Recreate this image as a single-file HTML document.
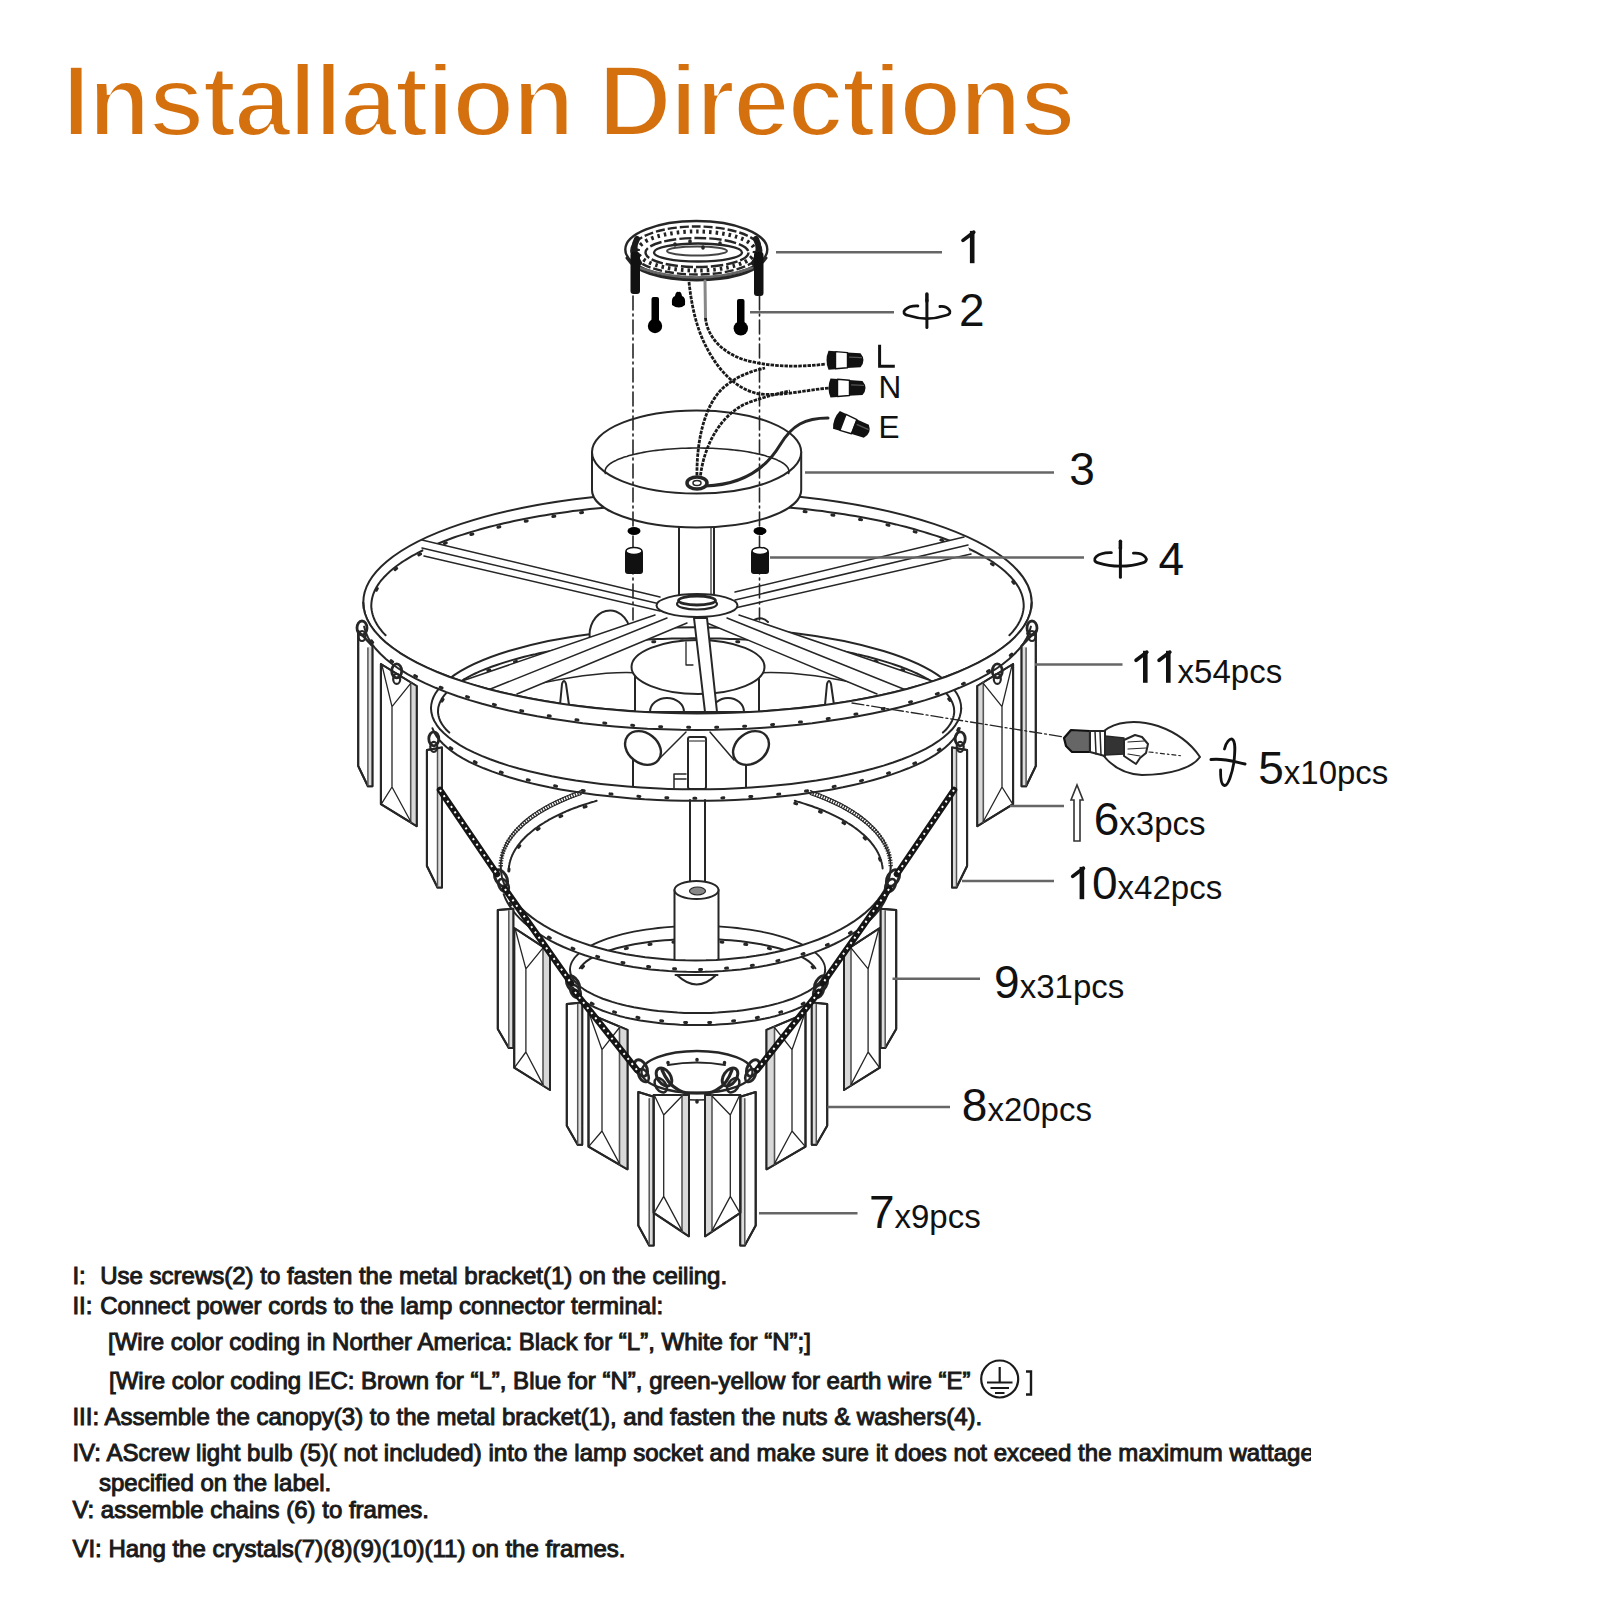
<!DOCTYPE html>
<html><head><meta charset="utf-8"><title>Installation Directions</title>
<style>
html,body{margin:0;padding:0;background:#fff;width:1600px;height:1600px;overflow:hidden}
svg{position:absolute;left:0;top:0;display:block}
.t{font-family:"Liberation Sans",sans-serif;fill:#1a1a1a;font-size:24px;stroke:#1a1a1a;stroke-width:1.0px}
.lbl{font-family:"Liberation Sans",sans-serif;fill:#111}
</style></head><body>
<svg width="1600" height="1600" viewBox="0 0 1600 1600">
<defs>
<clipPath id="txtclip"><rect x="0" y="1240" width="1311" height="360"/></clipPath>
</defs>
<!-- Title -->
<text x="62" y="135.8" font-family="Liberation Sans" font-weight="bold" font-size="102.5" fill="#D4700E" stroke="#fff" stroke-width="4" letter-spacing="-2.57">Installation Directions</text>

<!-- DIAGRAM -->
<g fill="none" stroke="#262626" stroke-width="2" stroke-linecap="round" stroke-linejoin="round">
<path d="M385.6,635.2 L383.8,633.4 L382.2,631.6 L380.7,629.7 L379.3,627.9 L378.0,626.0 L376.8,624.1 L375.8,622.3 L374.8,620.4 L374.0,618.5 L373.3,616.6 L372.7,614.7 L372.2,612.8 L371.8,610.9 L371.5,609.0 L371.3,607.1 L371.3,605.2 L371.4,603.3 L371.6,601.4 L371.9,599.5 L372.3,597.6 L372.8,595.7 L373.4,593.8 L374.2,591.9 L375.0,590.0 L376.0,588.1 L377.1,586.3 L378.3,584.4 L379.6,582.5 L381.0,580.7 L382.6,578.8 L384.2,577.0 L386.0,575.2 L387.8,573.4 L389.8,571.6 L391.9,569.8 L394.0,568.0 L396.3,566.2 L398.7,564.5 L401.2,562.7 L403.8,561.0 L406.5,559.3 L409.3,557.6 L412.2,555.9 L415.2,554.3 L418.3,552.6 L421.5,551.0 L424.8,549.4 L428.2,547.8 L431.7,546.3 L435.3,544.7 L439.0,543.2 L442.7,541.7 L446.6,540.2 L450.5,538.8 L454.5,537.3 L458.6,535.9 L462.8,534.6 L467.1,533.2 L471.4,531.9 L475.9,530.6 L480.4,529.3 L485.0,528.0 L489.6,526.8 L494.3,525.6 L499.1,524.4 L504.0,523.3 L509.0,522.2 L514.0,521.1 L519.0,520.0 L524.2,519.0 L529.3,518.0 L534.6,517.0 L539.9,516.1 L545.3,515.2 L550.7,514.3 L556.1,513.5 L561.7,512.7 L567.2,511.9 L572.8,511.1 L578.5,510.4 L584.2,509.8 L589.9,509.1 L595.7,508.5 L601.5,507.9 L607.3,507.4 L613.2,506.9 L619.1,506.4 L625.0,506.0 L631.0,505.5 L636.9,505.2 L642.9,504.8 L648.9,504.5 L655.0,504.3 L661.0,504.0 L667.1,503.8 L673.2,503.7 L679.2,503.6 L685.3,503.5 L691.4,503.4 L697.5,503.4 L703.6,503.4 L709.7,503.5 L715.8,503.6 L721.8,503.7 L727.9,503.8 L734.0,504.0 L740.0,504.3 L746.1,504.5 L752.1,504.8 L758.1,505.2 L764.0,505.5 L770.0,506.0 L775.9,506.4 L781.8,506.9 L787.7,507.4 L793.5,507.9 L799.3,508.5 L805.1,509.1 L810.8,509.8 L816.5,510.4 L822.2,511.1 L827.8,511.9 L833.3,512.7 L838.9,513.5 L844.3,514.3 L849.7,515.2 L855.1,516.1 L860.4,517.0 L865.7,518.0 L870.8,519.0 L876.0,520.0 L881.0,521.1 L886.0,522.2 L891.0,523.3 L895.9,524.4 L900.7,525.6 L905.4,526.8 L910.0,528.0 L914.6,529.3 L919.1,530.6 L923.6,531.9 L927.9,533.2 L932.2,534.6 L936.4,535.9 L940.5,537.3 L944.5,538.8 L948.4,540.2 L952.3,541.7 L956.0,543.2 L959.7,544.7 L963.3,546.3 L966.8,547.8 L970.2,549.4 L973.5,551.0 L976.7,552.6 L979.8,554.3 L982.8,555.9 L985.7,557.6 L988.5,559.3 L991.2,561.0 L993.8,562.7 L996.3,564.5 L998.7,566.2 L1001.0,568.0 L1003.1,569.8 L1005.2,571.6 L1007.2,573.4 L1009.0,575.2 L1010.8,577.0 L1012.4,578.8 L1014.0,580.7 L1015.4,582.5 L1016.7,584.4 L1017.9,586.3 L1019.0,588.1 L1020.0,590.0 L1020.8,591.9 L1021.6,593.8 L1022.2,595.7 L1022.7,597.6 L1023.1,599.5 L1023.4,601.4 L1023.6,603.3 L1023.7,605.2 L1023.7,607.1 L1023.5,609.0 L1023.2,610.9 L1022.8,612.8 L1022.3,614.7 L1021.7,616.6 L1021.0,618.5 L1020.2,620.4 L1019.2,622.3 L1018.2,624.1 L1017.0,626.0 L1015.7,627.9 L1014.3,629.7 L1012.8,631.6 L1011.2,633.4 L1009.4,635.2"/>
<ellipse cx="697.5" cy="602.4" rx="334.2" ry="111.0" />
<path d="M376.3,590.2 L377.3,588.4 L378.4,586.7 L379.7,585.0 L381.0,583.2 L382.4,581.5 L383.9,579.8 L385.6,578.1 L387.3,576.4 L389.1,574.7 L391.0,573.0 L393.0,571.3 L395.1,569.7 L397.2,568.0 L399.5,566.4 L401.9,564.8 L404.3,563.2 L406.9,561.6 L409.5,560.0 L412.2,558.4 L415.0,556.9 L417.9,555.4 L420.9,553.8 L423.9,552.3 L427.1,550.9 L430.3,549.4 L433.6,547.9 L437.0,546.5 L440.5,545.1 L444.0,543.7 L447.6,542.3 L451.3,541.0 L455.1,539.6 L458.9,538.3 L462.9,537.0 L466.8,535.8 L470.9,534.5 L475.0,533.3 L479.2,532.1 L483.5,530.9 L487.8,529.8 L492.2,528.6 L496.7,527.5 L501.2,526.4 L505.8,525.4 L510.4,524.3 L515.1,523.3 L519.8,522.4 L524.6,521.4 L529.5,520.5 L534.4,519.6 L539.4,518.7 L544.4,517.8 L549.4,517.0 L554.5,516.2 L559.6,515.5 L564.8,514.7 L570.0,514.0 L575.3,513.3 L580.6,512.7 L585.9,512.1 L591.3,511.5 L596.7,510.9 L602.1,510.4 L607.6,509.9 L613.1,509.4 L618.6,508.9 L624.1,508.5 L629.7,508.1 L635.3,507.8 L640.9,507.4 L646.5,507.2 L652.1,506.9 L657.7,506.7 L663.4,506.5 L669.1,506.3 L674.7,506.1 L680.4,506.0 L686.1,506.0 L691.8,505.9 L697.5,505.9 L703.2,505.9 L708.9,506.0 L714.6,506.0 L720.3,506.1 L725.9,506.3 L731.6,506.5 L737.3,506.7 L742.9,506.9 L748.5,507.2 L754.1,507.4 L759.7,507.8 L765.3,508.1 L770.9,508.5 L776.4,508.9 L781.9,509.4 L787.4,509.9 L792.9,510.4 L798.3,510.9 L803.7,511.5 L809.1,512.1 L814.4,512.7 L819.7,513.3 L825.0,514.0 L830.2,514.7 L835.4,515.5 L840.5,516.2 L845.6,517.0 L850.6,517.8 L855.6,518.7 L860.6,519.6 L865.5,520.5 L870.4,521.4 L875.2,522.4 L879.9,523.3 L884.6,524.3 L889.2,525.4 L893.8,526.4 L898.3,527.5 L902.8,528.6 L907.2,529.8 L911.5,530.9 L915.8,532.1 L920.0,533.3 L924.1,534.5 L928.2,535.8 L932.1,537.0 L936.1,538.3 L939.9,539.6 L943.7,541.0 L947.4,542.3 L951.0,543.7 L954.5,545.1 L958.0,546.5 L961.4,547.9 L964.7,549.4 L967.9,550.9 L971.1,552.3 L974.1,553.8 L977.1,555.4 L980.0,556.9 L982.8,558.4 L985.5,560.0 L988.1,561.6 L990.7,563.2 L993.1,564.8 L995.5,566.4 L997.8,568.0 L999.9,569.7 L1002.0,571.3 L1004.0,573.0 L1005.9,574.7 L1007.7,576.4 L1009.4,578.1 L1011.1,579.8 L1012.6,581.5 L1014.0,583.2 L1015.3,585.0 L1016.6,586.7 L1017.7,588.4 L1018.7,590.2" stroke-width="3" stroke-dasharray="2 26"/>
<path d="M449.3,732.6 L447.9,731.3 L446.6,730.0 L445.4,728.7 L444.3,727.4 L443.3,726.0 L442.4,724.7 L441.5,723.4 L440.8,722.0 L440.1,720.7 L439.6,719.3 L439.1,718.0 L438.7,716.6 L438.4,715.2 L438.2,713.9 L438.0,712.5 L438.0,711.1 L438.1,709.8 L438.2,708.4 L438.4,707.1 L438.8,705.7 L439.2,704.3 L439.7,703.0 L440.3,701.6 L441.0,700.3 L441.7,698.9 L442.6,697.6 L443.5,696.3 L444.6,694.9 L445.7,693.6 L446.9,692.3 L448.2,691.0 L449.6,689.7 L451.1,688.4 L452.6,687.1 L454.3,685.8 L456.0,684.5 L457.8,683.3 L459.7,682.0 L461.7,680.8 L463.7,679.5 L465.9,678.3 L468.1,677.1 L470.4,675.9 L472.8,674.7 L475.2,673.5 L477.7,672.4 L480.4,671.2 L483.0,670.1 L485.8,669.0 L488.6,667.9 L491.5,666.8 L494.5,665.7 L497.5,664.7 L500.7,663.6 L503.8,662.6 L507.1,661.6 L510.4,660.6 L513.8,659.6 L517.2,658.7 L520.7,657.7 L524.3,656.8 L527.9,655.9 L531.6,655.0 L535.4,654.2 L539.2,653.3 L543.0,652.5 L546.9,651.7 L550.9,651.0 L554.9,650.2 L558.9,649.5 L563.1,648.7 L567.2,648.1 L571.4,647.4 L575.6,646.7 L579.9,646.1 L584.3,645.5 L588.6,644.9 L593.0,644.4 L597.5,643.8 L601.9,643.3 L606.4,642.8 L611.0,642.4 L615.5,641.9 L620.1,641.5 L624.7,641.1 L629.4,640.8 L634.1,640.4 L638.7,640.1 L643.5,639.8 L648.2,639.6 L652.9,639.3 L657.7,639.1 L662.5,638.9 L667.2,638.8 L672.0,638.6 L676.8,638.5 L681.6,638.4 L686.5,638.4 L691.3,638.3 L696.1,638.3 L700.9,638.3 L705.7,638.4 L710.6,638.4 L715.4,638.5 L720.2,638.6 L725.0,638.8 L729.7,638.9 L734.5,639.1 L739.3,639.3 L744.0,639.6 L748.7,639.8 L753.5,640.1 L758.1,640.4 L762.8,640.8 L767.5,641.1 L772.1,641.5 L776.7,641.9 L781.2,642.4 L785.8,642.8 L790.3,643.3 L794.7,643.8 L799.2,644.4 L803.6,644.9 L807.9,645.5 L812.3,646.1 L816.6,646.7 L820.8,647.4 L825.0,648.1 L829.1,648.7 L833.3,649.5 L837.3,650.2 L841.3,651.0 L845.3,651.7 L849.2,652.5 L853.0,653.3 L856.8,654.2 L860.6,655.0 L864.3,655.9 L867.9,656.8 L871.5,657.7 L875.0,658.7 L878.4,659.6 L881.8,660.6 L885.1,661.6 L888.4,662.6 L891.5,663.6 L894.7,664.7 L897.7,665.7 L900.7,666.8 L903.6,667.9 L906.4,669.0 L909.2,670.1 L911.8,671.2 L914.5,672.4 L917.0,673.5 L919.4,674.7 L921.8,675.9 L924.1,677.1 L926.3,678.3 L928.5,679.5 L930.5,680.8 L932.5,682.0 L934.4,683.3 L936.2,684.5 L937.9,685.8 L939.6,687.1 L941.1,688.4 L942.6,689.7 L944.0,691.0 L945.3,692.3 L946.5,693.6 L947.6,694.9 L948.7,696.3 L949.6,697.6 L950.5,698.9 L951.2,700.3 L951.9,701.6 L952.5,703.0 L953.0,704.3 L953.4,705.7 L953.8,707.1 L954.0,708.4 L954.1,709.8 L954.2,711.1 L954.2,712.5 L954.0,713.9 L953.8,715.2 L953.5,716.6 L953.1,718.0 L952.6,719.3 L952.1,720.7 L951.4,722.0 L950.7,723.4 L949.8,724.7 L948.9,726.0 L947.9,727.4 L946.8,728.7 L945.6,730.0 L944.3,731.3 L942.9,732.6"/>
<path d="M431.0,708.3 A265.1,81.0 0 0 1 961.2,708.3" />
<path d="M441.9,701.1 L443.0,699.5 L444.3,697.8 L445.7,696.1 L447.2,694.5 L448.8,692.9 L450.6,691.2 L452.6,689.6 L454.6,688.0 L456.8,686.5 L459.1,684.9 L461.6,683.3 L464.1,681.8 L466.8,680.3 L469.6,678.8 L472.6,677.3 L475.6,675.8 L478.8,674.4 L482.1,673.0 L485.5,671.6 L489.1,670.2 L492.7,668.9 L496.5,667.5 L500.3,666.2 L504.3,665.0 L508.4,663.7 L512.5,662.5 L516.8,661.3 L521.2,660.1 L525.6,659.0 L530.2,657.9 L534.8,656.8 L539.6,655.8 L544.4,654.7 L549.3,653.8 L554.3,652.8 L559.3,651.9 L564.5,651.0 L569.7,650.2 L574.9,649.3 L580.3,648.6 L585.7,647.8 L591.1,647.1 L596.6,646.4 L602.2,645.8 L607.8,645.2 L613.5,644.6 L619.2,644.1 L625.0,643.6 L630.8,643.2 L636.6,642.8 L642.4,642.4 L648.3,642.1 L654.2,641.8 L660.2,641.5 L666.1,641.3 L672.1,641.1 L678.1,641.0 L684.1,640.9 L690.1,640.8 L696.1,640.8 L702.1,640.8 L708.1,640.9 L714.1,641.0 L720.1,641.1 L726.1,641.3 L732.0,641.5 L738.0,641.8 L743.9,642.1 L749.8,642.4 L755.6,642.8 L761.4,643.2 L767.2,643.6 L773.0,644.1 L778.7,644.6 L784.4,645.2 L790.0,645.8 L795.6,646.4 L801.1,647.1 L806.5,647.8 L811.9,648.6 L817.3,649.3 L822.5,650.2 L827.7,651.0 L832.9,651.9 L837.9,652.8 L842.9,653.8 L847.8,654.7 L852.6,655.8 L857.4,656.8 L862.0,657.9 L866.6,659.0 L871.0,660.1 L875.4,661.3 L879.7,662.5 L883.8,663.7 L887.9,665.0 L891.9,666.2 L895.7,667.5 L899.5,668.9 L903.1,670.2 L906.7,671.6 L910.1,673.0 L913.4,674.4 L916.6,675.8 L919.6,677.3 L922.6,678.8 L925.4,680.3 L928.1,681.8 L930.6,683.3 L933.1,684.9 L935.4,686.5 L937.6,688.0 L939.6,689.6 L941.6,691.2 L943.4,692.9 L945.0,694.5 L946.5,696.1 L947.9,697.8 L949.2,699.5 L950.3,701.1" stroke-width="3" stroke-dasharray="2 26"/>
<path d="M590,640 A20,24 0 0 1 630,630" fill="#fff"/>
<path d="M748,628 A14,20 0 0 1 768,622" fill="#fff"/>
<path d="M528,686 Q600,670 640,673 M756,673 Q800,670 868,686" stroke-width="1.5"/>
<path d="M635,667 L635,712 L759,712 L759,667" fill="#fff"/>
<ellipse cx="698.0" cy="667.0" rx="66.5" ry="27.0" fill="#fff"/>
<path d="M650,712 A17,14 0 0 1 684,712 M712,712 A16,14 0 0 1 744,712" />
<path d="M686,642 L686,665 L693,665" stroke-width="1.3"/>
<path d="M560,705 L562,684 Q564,678 566,684 L569,705" fill="#fff"/>
<path d="M825,705 L827,684 Q829,678 831,684 L834,705" fill="#fff"/>
<polygon points="422.0,540.0 660.0,597.0 660.0,611.0 424.0,556.0" fill="#fff" stroke="none"/><path d="M422,540 L660,597 M422,548 L660,604 M424,556 L660,611" stroke-width="1.5"/>
<polygon points="964.0,537.0 735.0,592.0 735.0,608.0 971.0,554.0" fill="#fff" stroke="none"/><path d="M964,537 L735,592 M968,545 L735,600 M971,554 L735,608" stroke-width="1.5"/>
<polygon points="655.0,615.0 462.0,681.0 517.0,694.0 687.0,623.0" fill="#fff" stroke="none"/><path d="M655,615 L462,681 M667,618 L488,690 M687,623 L517,694" stroke-width="1.5"/>
<polygon points="739.0,615.0 932.0,681.0 877.0,694.0 707.0,623.0" fill="#fff" stroke="none"/><path d="M739,615 L932,681 M727,618 L906,690 M707,623 L877,694" stroke-width="1.5"/>
<polygon points="694.0,618.0 707.0,618.0 717.0,712.0 705.0,712.0" fill="#fff"/>
<rect x="679" y="520" width="35" height="82" fill="#fff"/>
<path d="M711,525 L711,600" stroke-width="1.2"/>
<ellipse cx="697.0" cy="605.5" rx="40.5" ry="11.5" fill="#fff"/>
<ellipse cx="697.0" cy="604.0" rx="20.0" ry="5.5" fill="#fff" stroke-width="2.2"/>
<ellipse cx="697.0" cy="600.5" rx="18.5" ry="4.5" fill="#fff" stroke-width="2.8"/>
<path d="M592,452 L592,490 A104.6,37.5 0 0 0 801.2,490 L801.2,452" fill="#fff"/>
<ellipse cx="696.6" cy="452.0" rx="104.6" ry="41.6" fill="#fff"/>
<path d="M605.4,473.5 L605.1,472.6 L605.0,471.6 L605.1,470.6 L605.3,469.7 L605.7,468.7 L606.2,467.7 L606.9,466.8 L607.7,465.8 L608.7,464.9 L609.9,463.9 L611.2,463.0 L612.6,462.1 L614.2,461.2 L616.0,460.4 L617.8,459.5 L619.8,458.7 L622.0,457.9 L624.3,457.1 L626.7,456.4 L629.2,455.6 L631.8,454.9 L634.6,454.2 L637.4,453.6 L640.4,453.0 L643.4,452.4 L646.6,451.8 L649.8,451.3 L653.1,450.8 L656.5,450.4 L659.9,450.0 L663.5,449.6 L667.0,449.3 L670.7,449.0 L674.4,448.7 L678.1,448.5 L681.8,448.3 L685.6,448.2 L689.4,448.1 L693.2,448.0 L697.0,448.0 L700.8,448.0 L704.6,448.1 L708.4,448.2 L712.2,448.3 L715.9,448.5 L719.6,448.7 L723.3,449.0 L727.0,449.3 L730.5,449.6 L734.1,450.0 L737.5,450.4 L740.9,450.8 L744.2,451.3 L747.4,451.8 L750.6,452.4 L753.6,453.0 L756.6,453.6 L759.4,454.2 L762.2,454.9 L764.8,455.6 L767.3,456.4 L769.7,457.1 L772.0,457.9 L774.2,458.7 L776.2,459.5 L778.0,460.4 L779.8,461.2 L781.4,462.1 L782.8,463.0 L784.1,463.9 L785.3,464.9 L786.3,465.8 L787.1,466.8 L787.8,467.7 L788.3,468.7 L788.7,469.7 L788.9,470.6 L789.0,471.6 L788.9,472.6 L788.6,473.5" stroke-width="1.6"/>
<polygon points="1031.7,602.4 1031.2,608.2 1029.9,614.0 1027.6,619.8 1024.4,625.5 1020.3,631.1 1015.3,636.7 1009.5,642.2 1002.8,647.5 995.3,652.8 986.9,657.9 977.8,662.9 967.9,667.6 957.2,672.3 945.9,676.7 933.8,680.9 921.1,684.9 907.8,688.7 893.9,692.2 879.5,695.5 864.6,698.5 849.2,701.3 833.4,703.8 817.3,706.0 800.8,708.0 784.0,709.6 767.0,711.0 749.8,712.0 732.4,712.8 715.0,713.2 697.5,713.4 680.0,713.2 662.6,712.8 645.2,712.0 628.0,711.0 611.0,709.6 594.2,708.0 577.7,706.0 561.6,703.8 545.8,701.3 530.4,698.5 515.5,695.5 501.1,692.2 487.2,688.7 473.9,684.9 461.2,680.9 449.1,676.7 437.8,672.3 427.1,667.6 417.2,662.9 408.1,657.9 399.7,652.8 392.2,647.5 385.5,642.2 379.7,636.7 374.7,631.1 370.6,625.5 367.4,619.8 365.1,614.0 363.8,608.2 363.3,602.4 363.3,618.9 363.8,624.7 365.1,630.5 367.4,636.3 370.6,642.0 374.7,647.6 379.7,653.2 385.5,658.7 392.2,664.0 399.7,669.3 408.1,674.4 417.2,679.4 427.1,684.1 437.8,688.8 449.1,693.2 461.2,697.4 473.9,701.4 487.2,705.2 501.1,708.7 515.5,712.0 530.4,715.0 545.8,717.8 561.6,720.3 577.7,722.5 594.2,724.5 611.0,726.1 628.0,727.5 645.2,728.5 662.6,729.3 680.0,729.7 697.5,729.9 715.0,729.7 732.4,729.3 749.8,728.5 767.0,727.5 784.0,726.1 800.8,724.5 817.3,722.5 833.4,720.3 849.2,717.8 864.6,715.0 879.5,712.0 893.9,708.7 907.8,705.2 921.1,701.4 933.8,697.4 945.9,693.2 957.2,688.8 967.9,684.1 977.8,679.4 986.9,674.4 995.3,669.3 1002.8,664.0 1009.5,658.7 1015.3,653.2 1020.3,647.6 1024.4,642.0 1027.6,636.3 1029.9,630.5 1031.2,624.7 1031.7,618.9" fill="#fff" stroke="none"/>
<path d="M1031.7,602.4 L1031.2,608.2 L1029.9,614.0 L1027.6,619.8 L1024.4,625.5 L1020.3,631.1 L1015.3,636.7 L1009.5,642.2 L1002.8,647.5 L995.3,652.8 L986.9,657.9 L977.8,662.9 L967.9,667.6 L957.2,672.3 L945.9,676.7 L933.8,680.9 L921.1,684.9 L907.8,688.7 L893.9,692.2 L879.5,695.5 L864.6,698.5 L849.2,701.3 L833.4,703.8 L817.3,706.0 L800.8,708.0 L784.0,709.6 L767.0,711.0 L749.8,712.0 L732.4,712.8 L715.0,713.2 L697.5,713.4 L680.0,713.2 L662.6,712.8 L645.2,712.0 L628.0,711.0 L611.0,709.6 L594.2,708.0 L577.7,706.0 L561.6,703.8 L545.8,701.3 L530.4,698.5 L515.5,695.5 L501.1,692.2 L487.2,688.7 L473.9,684.9 L461.2,680.9 L449.1,676.7 L437.8,672.3 L427.1,667.6 L417.2,662.9 L408.1,657.9 L399.7,652.8 L392.2,647.5 L385.5,642.2 L379.7,636.7 L374.7,631.1 L370.6,625.5 L367.4,619.8 L365.1,614.0 L363.8,608.2 L363.3,602.4" stroke-width="2"/>
<path d="M1030.9,626.6 L1029.3,632.2 L1026.9,637.7 L1023.7,643.1 L1019.6,648.5 L1014.7,653.8 L1009.1,659.0 L1002.6,664.2 L995.5,669.2 L987.5,674.1 L978.8,678.8 L969.5,683.4 L959.4,687.8 L948.7,692.1 L937.4,696.2 L925.4,700.1 L912.9,703.8 L899.9,707.2 L886.3,710.5 L872.3,713.5 L857.8,716.3 L843.0,718.8 L827.7,721.1 L812.2,723.2 L796.3,724.9 L780.2,726.4 L763.9,727.7 L747.5,728.7 L730.9,729.3 L714.2,729.8 L697.5,729.9 L680.8,729.8 L664.1,729.3 L647.5,728.7 L631.1,727.7 L614.8,726.4 L598.7,724.9 L582.8,723.2 L567.3,721.1 L552.0,718.8 L537.2,716.3 L522.7,713.5 L508.7,710.5 L495.1,707.2 L482.1,703.8 L469.6,700.1 L457.6,696.2 L446.3,692.1 L435.6,687.8 L425.5,683.4 L416.2,678.8 L407.5,674.1 L399.5,669.2 L392.4,664.2 L385.9,659.0 L380.3,653.8 L375.4,648.5 L371.3,643.1 L368.1,637.7 L365.7,632.2 L364.1,626.6"/>
<path d="M1028.4,631.8 L1027.6,633.8 L1026.6,635.8 L1025.5,637.7 L1024.3,639.7 L1023.0,641.6 L1021.6,643.5 L1020.0,645.5 L1018.4,647.4 L1016.7,649.3 L1014.9,651.2 L1013.0,653.0 L1010.9,654.9 L1008.8,656.8 L1006.6,658.6 L1004.3,660.4 L1001.9,662.3 L999.3,664.1 L996.7,665.8 L994.0,667.6 L991.2,669.4 L988.3,671.1 L985.3,672.8 L982.2,674.5 L979.0,676.2 L975.8,677.9 L972.4,679.5 L969.0,681.1 L965.5,682.7 L961.8,684.3 L958.1,685.9 L954.4,687.4 L950.5,688.9 L946.5,690.4 L942.5,691.9 L938.4,693.3 L934.2,694.8 L930.0,696.1 L925.6,697.5 L921.2,698.9 L916.8,700.2 L912.2,701.5 L907.6,702.7 L902.9,704.0 L898.2,705.2 L893.3,706.3 L888.5,707.5 L883.5,708.6 L878.5,709.7 L873.5,710.8 L868.4,711.8 L863.2,712.8 L858.0,713.8 L852.7,714.7 L847.4,715.6 L842.0,716.5 L836.6,717.3 L831.2,718.1 L825.7,718.9 L820.1,719.7 L814.5,720.4 L808.9,721.0 L803.3,721.7 L797.6,722.3 L791.9,722.9 L786.1,723.4 L780.3,723.9 L774.5,724.4 L768.7,724.9 L762.8,725.3 L757.0,725.6 L751.1,726.0 L745.2,726.3 L739.2,726.5 L733.3,726.8 L727.4,727.0 L721.4,727.1 L715.4,727.2 L709.5,727.3 L703.5,727.4 L697.5,727.4 L691.5,727.4 L685.5,727.3 L679.6,727.2 L673.6,727.1 L667.6,727.0 L661.7,726.8 L655.8,726.5 L649.8,726.3 L643.9,726.0 L638.0,725.6 L632.2,725.3 L626.3,724.9 L620.5,724.4 L614.7,723.9 L608.9,723.4 L603.1,722.9 L597.4,722.3 L591.7,721.7 L586.1,721.0 L580.5,720.4 L574.9,719.7 L569.3,718.9 L563.8,718.1 L558.4,717.3 L553.0,716.5 L547.6,715.6 L542.3,714.7 L537.0,713.8 L531.8,712.8 L526.6,711.8 L521.5,710.8 L516.5,709.7 L511.5,708.6 L506.5,707.5 L501.7,706.3 L496.8,705.2 L492.1,704.0 L487.4,702.7 L482.8,701.5 L478.2,700.2 L473.8,698.9 L469.4,697.5 L465.0,696.1 L460.8,694.8 L456.6,693.3 L452.5,691.9 L448.5,690.4 L444.5,688.9 L440.6,687.4 L436.9,685.9 L433.2,684.3 L429.5,682.7 L426.0,681.1 L422.6,679.5 L419.2,677.9 L416.0,676.2 L412.8,674.5 L409.7,672.8 L406.7,671.1 L403.8,669.4 L401.0,667.6 L398.3,665.8 L395.7,664.1 L393.1,662.3 L390.7,660.4 L388.4,658.6 L386.2,656.8 L384.1,654.9 L382.0,653.0 L380.1,651.2 L378.3,649.3 L376.6,647.4 L375.0,645.5 L373.4,643.5 L372.0,641.6 L370.7,639.7 L369.5,637.7 L368.4,635.8 L367.4,633.8 L366.6,631.8" stroke-width="3" stroke-dasharray="2 26"/>
<path d="M633,735 L633,790 L746,790 L746,735" fill="#fff"/>
<path d="M660,758 L686,732 M710,732 L734,760" stroke-width="1.5"/>
<rect x="688" y="737" width="18" height="52" rx="2" fill="#fff"/>
<path d="M689,741 L705,741" stroke-width="1.4" stroke="#666"/>
<path d="M674,788 L674,774 L686,774 M674,779 L686,779" stroke-width="1.5"/>
<ellipse cx="643" cy="748" rx="19.5" ry="15" transform="rotate(38 643 748)" fill="#fff" stroke-width="2.4"/>
<ellipse cx="751" cy="748" rx="19.5" ry="15" transform="rotate(-38 751 748)" fill="#fff" stroke-width="2.4"/>
<polygon points="961.2,708.3 960.8,712.5 959.7,716.8 957.9,721.0 955.4,725.1 952.2,729.3 948.2,733.3 943.6,737.3 938.3,741.2 932.3,745.1 925.7,748.8 918.4,752.4 910.6,755.9 902.1,759.3 893.1,762.5 883.6,765.6 873.5,768.5 862.9,771.2 851.9,773.8 840.5,776.2 828.7,778.4 816.5,780.5 803.9,782.3 791.1,783.9 778.0,785.3 764.7,786.5 751.2,787.5 737.6,788.3 723.8,788.9 710.0,789.2 696.1,789.3 682.2,789.2 668.4,788.9 654.6,788.3 641.0,787.5 627.5,786.5 614.2,785.3 601.1,783.9 588.3,782.3 575.7,780.5 563.6,778.4 551.7,776.2 540.3,773.8 529.3,771.2 518.7,768.5 508.6,765.6 499.1,762.5 490.1,759.3 481.6,755.9 473.8,752.4 466.5,748.8 459.9,745.1 453.9,741.2 448.6,737.3 444.0,733.3 440.0,729.3 436.8,725.1 434.3,721.0 432.5,716.8 431.4,712.5 431.0,708.3 431.0,719.8 431.4,724.0 432.5,728.3 434.3,732.5 436.8,736.6 440.0,740.8 444.0,744.8 448.6,748.8 453.9,752.7 459.9,756.6 466.5,760.3 473.8,763.9 481.6,767.4 490.1,770.8 499.1,774.0 508.6,777.1 518.7,780.0 529.3,782.7 540.3,785.3 551.7,787.7 563.6,789.9 575.7,792.0 588.3,793.8 601.1,795.4 614.2,796.8 627.5,798.0 641.0,799.0 654.6,799.8 668.4,800.4 682.2,800.7 696.1,800.8 710.0,800.7 723.8,800.4 737.6,799.8 751.2,799.0 764.7,798.0 778.0,796.8 791.1,795.4 803.9,793.8 816.5,792.0 828.7,789.9 840.5,787.7 851.9,785.3 862.9,782.7 873.5,780.0 883.6,777.1 893.1,774.0 902.1,770.8 910.6,767.4 918.4,763.9 925.7,760.3 932.3,756.6 938.3,752.7 943.6,748.8 948.2,744.8 952.2,740.8 955.4,736.6 957.9,732.5 959.7,728.3 960.8,724.0 961.2,719.8" fill="#fff" stroke="none"/>
<path d="M961.2,708.3 L960.8,712.5 L959.7,716.8 L957.9,721.0 L955.4,725.1 L952.2,729.3 L948.2,733.3 L943.6,737.3 L938.3,741.2 L932.3,745.1 L925.7,748.8 L918.4,752.4 L910.6,755.9 L902.1,759.3 L893.1,762.5 L883.6,765.6 L873.5,768.5 L862.9,771.2 L851.9,773.8 L840.5,776.2 L828.7,778.4 L816.5,780.5 L803.9,782.3 L791.1,783.9 L778.0,785.3 L764.7,786.5 L751.2,787.5 L737.6,788.3 L723.8,788.9 L710.0,789.2 L696.1,789.3 L682.2,789.2 L668.4,788.9 L654.6,788.3 L641.0,787.5 L627.5,786.5 L614.2,785.3 L601.1,783.9 L588.3,782.3 L575.7,780.5 L563.6,778.4 L551.7,776.2 L540.3,773.8 L529.3,771.2 L518.7,768.5 L508.6,765.6 L499.1,762.5 L490.1,759.3 L481.6,755.9 L473.8,752.4 L466.5,748.8 L459.9,745.1 L453.9,741.2 L448.6,737.3 L444.0,733.3 L440.0,729.3 L436.8,725.1 L434.3,721.0 L432.5,716.8 L431.4,712.5 L431.0,708.3" stroke-width="2"/>
<path d="M959.7,728.3 L958.1,732.2 L955.8,736.1 L952.9,739.9 L949.3,743.8 L945.2,747.5 L940.5,751.2 L935.2,754.8 L929.3,758.3 L922.9,761.8 L915.9,765.1 L908.4,768.3 L900.4,771.4 L891.9,774.4 L882.9,777.3 L873.5,780.0 L863.7,782.6 L853.4,785.0 L842.8,787.3 L831.8,789.4 L820.6,791.3 L809.0,793.1 L797.1,794.7 L785.0,796.1 L772.7,797.3 L760.2,798.4 L747.6,799.3 L734.8,799.9 L722.0,800.4 L709.1,800.7 L696.1,800.8 L683.1,800.7 L670.2,800.4 L657.4,799.9 L644.6,799.3 L632.0,798.4 L619.5,797.3 L607.2,796.1 L595.1,794.7 L583.2,793.1 L571.6,791.3 L560.4,789.4 L549.4,787.3 L538.8,785.0 L528.5,782.6 L518.7,780.0 L509.3,777.3 L500.3,774.4 L491.8,771.4 L483.8,768.3 L476.3,765.1 L469.3,761.8 L462.9,758.3 L457.0,754.8 L451.7,751.2 L447.0,747.5 L442.9,743.8 L439.3,739.9 L436.4,736.1 L434.1,732.2 L432.5,728.3"/>
<path d="M958.6,728.6 L957.7,730.5 L956.6,732.4 L955.3,734.3 L953.9,736.2 L952.4,738.0 L950.7,739.9 L948.8,741.7 L946.9,743.6 L944.7,745.4 L942.5,747.2 L940.1,749.0 L937.5,750.8 L934.8,752.5 L932.0,754.2 L929.1,755.9 L926.0,757.6 L922.8,759.3 L919.4,760.9 L916.0,762.6 L912.4,764.1 L908.7,765.7 L904.8,767.2 L900.9,768.7 L896.8,770.2 L892.6,771.7 L888.3,773.1 L883.9,774.5 L879.4,775.8 L874.7,777.1 L870.0,778.4 L865.2,779.7 L860.3,780.9 L855.3,782.1 L850.2,783.2 L845.0,784.3 L839.7,785.4 L834.4,786.4 L828.9,787.4 L823.4,788.3 L817.8,789.3 L812.2,790.1 L806.5,790.9 L800.7,791.7 L794.8,792.5 L788.9,793.2 L783.0,793.8 L777.0,794.4 L770.9,795.0 L764.9,795.5 L758.7,796.0 L752.6,796.4 L746.4,796.8 L740.2,797.2 L733.9,797.5 L727.6,797.7 L721.4,797.9 L715.1,798.1 L708.7,798.2 L702.4,798.3 L696.1,798.3 L689.8,798.3 L683.5,798.2 L677.1,798.1 L670.8,797.9 L664.6,797.7 L658.3,797.5 L652.0,797.2 L645.8,796.8 L639.6,796.4 L633.5,796.0 L627.3,795.5 L621.3,795.0 L615.2,794.4 L609.2,793.8 L603.3,793.2 L597.4,792.5 L591.5,791.7 L585.7,790.9 L580.0,790.1 L574.4,789.3 L568.8,788.3 L563.3,787.4 L557.8,786.4 L552.5,785.4 L547.2,784.3 L542.0,783.2 L536.9,782.1 L531.9,780.9 L527.0,779.7 L522.2,778.4 L517.5,777.1 L512.8,775.8 L508.3,774.5 L503.9,773.1 L499.6,771.7 L495.4,770.2 L491.3,768.7 L487.4,767.2 L483.5,765.7 L479.8,764.1 L476.2,762.6 L472.8,760.9 L469.4,759.3 L466.2,757.6 L463.1,755.9 L460.2,754.2 L457.4,752.5 L454.7,750.8 L452.1,749.0 L449.7,747.2 L447.5,745.4 L445.3,743.6 L443.4,741.7 L441.5,739.9 L439.8,738.0 L438.3,736.2 L436.9,734.3 L435.6,732.4 L434.5,730.5 L433.6,728.6" stroke-width="3" stroke-dasharray="2 26"/>
<path d="M690,800 L690,890 M705,800 L705,890"/>
<path d="M500.7,866.4 L500.7,865.0 L500.8,863.5 L500.9,862.1 L501.1,860.7 L501.3,859.2 L501.6,857.8 L501.9,856.4 L502.2,855.0 L502.6,853.5 L503.1,852.1 L503.6,850.7 L504.2,849.3 L504.8,847.9 L505.4,846.5 L506.1,845.1 L506.8,843.7 L507.6,842.3 L508.4,841.0 L509.3,839.6 L510.2,838.2 L511.2,836.9 L512.2,835.5 L513.3,834.2 L514.4,832.8 L515.5,831.5 L516.7,830.2 L518.0,828.9 L519.3,827.6 L520.6,826.3 L522.0,825.0 L523.4,823.7 L524.8,822.5 L526.3,821.2 L527.9,820.0 L529.4,818.7 L531.1,817.5 L532.7,816.3 L534.4,815.1 L536.2,814.0 L537.9,812.8 L539.8,811.6 L541.6,810.5 L543.5,809.4 L545.4,808.3 L547.4,807.2 L549.4,806.1 L551.5,805.0 L553.6,804.0 L555.7,802.9 L557.8,801.9 L560.0,800.9 L562.2,799.9 L564.5,798.9 L566.7,798.0 L569.1,797.1 L571.4,796.1 L573.8,795.2 L576.2,794.3 L578.6,793.5 L581.1,792.6" stroke-width="4.4" stroke="#333" stroke-dasharray="1.3 1.3" stroke-linecap="butt"/>
<path d="M500.7,864.4 L500.7,863.0 L500.8,861.5 L500.9,860.1 L501.1,858.7 L501.3,857.2 L501.6,855.8 L501.9,854.4 L502.2,853.0 L502.6,851.5 L503.1,850.1 L503.6,848.7 L504.2,847.3 L504.8,845.9 L505.4,844.5 L506.1,843.1 L506.8,841.7 L507.6,840.3 L508.4,839.0 L509.3,837.6 L510.2,836.2 L511.2,834.9 L512.2,833.5 L513.3,832.2 L514.4,830.8 L515.5,829.5 L516.7,828.2 L518.0,826.9 L519.3,825.6 L520.6,824.3 L522.0,823.0 L523.4,821.7 L524.8,820.5 L526.3,819.2 L527.9,818.0 L529.4,816.7 L531.1,815.5 L532.7,814.3 L534.4,813.1 L536.2,812.0 L537.9,810.8 L539.8,809.6 L541.6,808.5 L543.5,807.4 L545.4,806.3 L547.4,805.2 L549.4,804.1 L551.5,803.0 L553.6,802.0 L555.7,800.9 L557.8,799.9 L560.0,798.9 L562.2,797.9 L564.5,796.9 L566.7,796.0 L569.1,795.1 L571.4,794.1 L573.8,793.2 L576.2,792.3 L578.6,791.5 L581.1,790.6" stroke-width="1.1" />
<path d="M500.7,868.4 L500.7,867.0 L500.8,865.5 L500.9,864.1 L501.1,862.7 L501.3,861.2 L501.6,859.8 L501.9,858.4 L502.2,857.0 L502.6,855.5 L503.1,854.1 L503.6,852.7 L504.2,851.3 L504.8,849.9 L505.4,848.5 L506.1,847.1 L506.8,845.7 L507.6,844.3 L508.4,843.0 L509.3,841.6 L510.2,840.2 L511.2,838.9 L512.2,837.5 L513.3,836.2 L514.4,834.8 L515.5,833.5 L516.7,832.2 L518.0,830.9 L519.3,829.6 L520.6,828.3 L522.0,827.0 L523.4,825.7 L524.8,824.5 L526.3,823.2 L527.9,822.0 L529.4,820.7 L531.1,819.5 L532.7,818.3 L534.4,817.1 L536.2,816.0 L537.9,814.8 L539.8,813.6 L541.6,812.5 L543.5,811.4 L545.4,810.3 L547.4,809.2 L549.4,808.1 L551.5,807.0 L553.6,806.0 L555.7,804.9 L557.8,803.9 L560.0,802.9 L562.2,801.9 L564.5,800.9 L566.7,800.0 L569.1,799.1 L571.4,798.1 L573.8,797.2 L576.2,796.3 L578.6,795.5 L581.1,794.6" stroke-width="1.1" />
<path d="M810.3,792.6 L812.8,793.5 L815.2,794.3 L817.6,795.2 L820.0,796.1 L822.3,797.1 L824.7,798.0 L826.9,798.9 L829.2,799.9 L831.4,800.9 L833.6,801.9 L835.7,802.9 L837.8,804.0 L839.9,805.0 L842.0,806.1 L844.0,807.2 L846.0,808.3 L847.9,809.4 L849.8,810.5 L851.6,811.6 L853.5,812.8 L855.2,814.0 L857.0,815.1 L858.7,816.3 L860.3,817.5 L862.0,818.7 L863.5,820.0 L865.1,821.2 L866.6,822.5 L868.0,823.7 L869.4,825.0 L870.8,826.3 L872.1,827.6 L873.4,828.9 L874.7,830.2 L875.9,831.5 L877.0,832.8 L878.1,834.2 L879.2,835.5 L880.2,836.9 L881.2,838.2 L882.1,839.6 L883.0,841.0 L883.8,842.3 L884.6,843.7 L885.3,845.1 L886.0,846.5 L886.6,847.9 L887.2,849.3 L887.8,850.7 L888.3,852.1 L888.8,853.5 L889.2,855.0 L889.5,856.4 L889.8,857.8 L890.1,859.2 L890.3,860.7 L890.5,862.1 L890.6,863.5 L890.7,865.0 L890.7,866.4" stroke-width="4.4" stroke="#333" stroke-dasharray="1.3 1.3" stroke-linecap="butt"/>
<path d="M810.3,790.6 L812.8,791.5 L815.2,792.3 L817.6,793.2 L820.0,794.1 L822.3,795.1 L824.7,796.0 L826.9,796.9 L829.2,797.9 L831.4,798.9 L833.6,799.9 L835.7,800.9 L837.8,802.0 L839.9,803.0 L842.0,804.1 L844.0,805.2 L846.0,806.3 L847.9,807.4 L849.8,808.5 L851.6,809.6 L853.5,810.8 L855.2,812.0 L857.0,813.1 L858.7,814.3 L860.3,815.5 L862.0,816.7 L863.5,818.0 L865.1,819.2 L866.6,820.5 L868.0,821.7 L869.4,823.0 L870.8,824.3 L872.1,825.6 L873.4,826.9 L874.7,828.2 L875.9,829.5 L877.0,830.8 L878.1,832.2 L879.2,833.5 L880.2,834.9 L881.2,836.2 L882.1,837.6 L883.0,839.0 L883.8,840.3 L884.6,841.7 L885.3,843.1 L886.0,844.5 L886.6,845.9 L887.2,847.3 L887.8,848.7 L888.3,850.1 L888.8,851.5 L889.2,853.0 L889.5,854.4 L889.8,855.8 L890.1,857.2 L890.3,858.7 L890.5,860.1 L890.6,861.5 L890.7,863.0 L890.7,864.4" stroke-width="1.1" />
<path d="M810.3,794.6 L812.8,795.5 L815.2,796.3 L817.6,797.2 L820.0,798.1 L822.3,799.1 L824.7,800.0 L826.9,800.9 L829.2,801.9 L831.4,802.9 L833.6,803.9 L835.7,804.9 L837.8,806.0 L839.9,807.0 L842.0,808.1 L844.0,809.2 L846.0,810.3 L847.9,811.4 L849.8,812.5 L851.6,813.6 L853.5,814.8 L855.2,816.0 L857.0,817.1 L858.7,818.3 L860.3,819.5 L862.0,820.7 L863.5,822.0 L865.1,823.2 L866.6,824.5 L868.0,825.7 L869.4,827.0 L870.8,828.3 L872.1,829.6 L873.4,830.9 L874.7,832.2 L875.9,833.5 L877.0,834.8 L878.1,836.2 L879.2,837.5 L880.2,838.9 L881.2,840.2 L882.1,841.6 L883.0,843.0 L883.8,844.3 L884.6,845.7 L885.3,847.1 L886.0,848.5 L886.6,849.9 L887.2,851.3 L887.8,852.7 L888.3,854.1 L888.8,855.5 L889.2,857.0 L889.5,858.4 L889.8,859.8 L890.1,861.2 L890.3,862.7 L890.5,864.1 L890.6,865.5 L890.7,867.0 L890.7,868.4" stroke-width="1.1" />
<path d="M508.8,868.5 L508.9,867.1 L509.1,865.8 L509.4,864.4 L509.6,863.1 L510.0,861.7 L510.3,860.4 L510.8,859.1 L511.2,857.7 L511.8,856.4 L512.3,855.0 L513.0,853.7 L513.6,852.4 L514.4,851.1 L515.1,849.8 L515.9,848.5 L516.8,847.2 L517.7,845.9 L518.7,844.6 L519.7,843.3 L520.7,842.0 L521.8,840.8 L523.0,839.5 L524.2,838.3 L525.4,837.0 L526.7,835.8 L528.0,834.6 L529.4,833.4 L530.8,832.2 L532.3,831.0 L533.8,829.8 L535.3,828.6 L536.9,827.5 L538.5,826.3 L540.2,825.2 L541.9,824.1 L543.7,823.0 L545.4,821.9 L547.3,820.8 L549.1,819.7 L551.1,818.7 L553.0,817.6 L555.0,816.6 L557.0,815.6 L559.1,814.6 L561.2,813.6 L563.3,812.6 L565.5,811.7 L567.7,810.7 L569.9,809.8 L572.2,808.9 L574.5,808.0 L576.8,807.2 L579.2,806.3 L581.6,805.5 L584.0,804.7 L586.5,803.9 L589.0,803.1 L591.5,802.3 L594.0,801.6 L596.6,800.8"/>
<path d="M508.8,871.0 L509.1,868.3 L509.6,865.6 L510.3,862.9 L511.2,860.2 L512.3,857.5 L513.6,854.9 L515.1,852.3 L516.8,849.7 L518.7,847.1 L520.7,844.5 L523.0,842.0 L525.4,839.5 L528.0,837.1 L530.8,834.7 L533.8,832.3 L536.9,830.0 L540.2,827.7 L543.7,825.5 L547.3,823.3 L551.1,821.2 L555.0,819.1 L559.1,817.1 L563.3,815.1 L567.7,813.2 L572.2,811.4 L576.8,809.7 L581.6,808.0 L586.5,806.4 L591.5,804.8 L596.6,803.3" stroke-width="3" stroke-dasharray="2 24"/>
<path d="M794.8,800.8 L797.4,801.6 L799.9,802.3 L802.4,803.1 L804.9,803.9 L807.4,804.7 L809.8,805.5 L812.2,806.3 L814.6,807.2 L816.9,808.0 L819.2,808.9 L821.5,809.8 L823.7,810.7 L825.9,811.7 L828.1,812.6 L830.2,813.6 L832.3,814.6 L834.4,815.6 L836.4,816.6 L838.4,817.6 L840.3,818.7 L842.3,819.7 L844.1,820.8 L846.0,821.9 L847.7,823.0 L849.5,824.1 L851.2,825.2 L852.9,826.3 L854.5,827.5 L856.1,828.6 L857.6,829.8 L859.1,831.0 L860.6,832.2 L862.0,833.4 L863.4,834.6 L864.7,835.8 L866.0,837.0 L867.2,838.3 L868.4,839.5 L869.6,840.8 L870.7,842.0 L871.7,843.3 L872.7,844.6 L873.7,845.9 L874.6,847.2 L875.5,848.5 L876.3,849.8 L877.0,851.1 L877.8,852.4 L878.4,853.7 L879.1,855.0 L879.6,856.4 L880.2,857.7 L880.6,859.1 L881.1,860.4 L881.4,861.7 L881.8,863.1 L882.0,864.4 L882.3,865.8 L882.5,867.1 L882.6,868.5"/>
<path d="M794.8,803.3 L799.9,804.8 L804.9,806.4 L809.8,808.0 L814.6,809.7 L819.2,811.4 L823.7,813.2 L828.1,815.1 L832.3,817.1 L836.4,819.1 L840.3,821.2 L844.1,823.3 L847.7,825.5 L851.2,827.7 L854.5,830.0 L857.6,832.3 L860.6,834.7 L863.4,837.1 L866.0,839.5 L868.4,842.0 L870.7,844.5 L872.7,847.1 L874.6,849.7 L876.3,852.3 L877.8,854.9 L879.1,857.5 L880.2,860.2 L881.1,862.9 L881.8,865.6 L882.3,868.3 L882.6,871.0" stroke-width="3" stroke-dasharray="2 24"/>
<path d="M570.0,969.5 L570.2,967.2 L570.7,964.9 L571.6,962.7 L572.8,960.4 L574.3,958.2 L576.2,956.0 L578.5,953.9 L581.0,951.8 L583.9,949.7 L587.1,947.7 L590.6,945.8 L594.4,943.9 L598.4,942.1 L602.8,940.3 L607.4,938.7 L612.2,937.1 L617.3,935.6 L622.6,934.2 L628.1,932.9 L633.8,931.7 L639.7,930.7 L645.7,929.7 L651.9,928.8 L658.2,928.0 L664.6,927.4 L671.1,926.9 L677.6,926.4 L684.3,926.1 L690.9,926.0 L697.6,925.9 L704.3,926.0 L710.9,926.1 L717.6,926.4 L724.1,926.9 L730.6,927.4 L737.0,928.0 L743.3,928.8 L749.5,929.7 L755.5,930.7 L761.4,931.7 L767.1,932.9 L772.6,934.2 L777.9,935.6 L783.0,937.1 L787.8,938.7 L792.4,940.3 L796.8,942.1 L800.8,943.9 L804.6,945.8 L808.1,947.7 L811.3,949.7 L814.2,951.8 L816.7,953.9 L819.0,956.0 L820.9,958.2 L822.4,960.4 L823.6,962.7 L824.5,964.9 L825.0,967.2 L825.2,969.5" stroke-width="1.8"/>
<path d="M579.8,968.3 L580.9,966.7 L582.3,965.1 L583.9,963.5 L585.7,961.9 L587.8,960.4 L590.1,958.9 L592.7,957.4 L595.4,956.0 L598.4,954.6 L601.7,953.2 L605.1,951.9 L608.7,950.7 L612.5,949.5 L616.5,948.3 L620.7,947.2 L625.1,946.2 L629.6,945.2 L634.2,944.3 L639.0,943.5 L643.9,942.7 L649.0,942.0 L654.1,941.3 L659.3,940.8 L664.6,940.3 L670.0,939.9 L675.5,939.5 L681.0,939.2 L686.5,939.1 L692.0,938.9 L697.6,938.9 L703.2,938.9 L708.7,939.1 L714.2,939.2 L719.7,939.5 L725.2,939.9 L730.6,940.3 L735.9,940.8 L741.1,941.3 L746.2,942.0 L751.3,942.7 L756.2,943.5 L761.0,944.3 L765.6,945.2 L770.1,946.2 L774.5,947.2 L778.7,948.3 L782.7,949.5 L786.5,950.7 L790.1,951.9 L793.5,953.2 L796.8,954.6 L799.8,956.0 L802.5,957.4 L805.1,958.9 L807.4,960.4 L809.5,961.9 L811.3,963.5 L812.9,965.1 L814.3,966.7 L815.4,968.3"/>
<path d="M582.1,967.8 L583.5,966.3 L585.2,964.8 L587.1,963.4 L589.2,962.0 L591.5,960.6 L594.0,959.2 L596.7,957.9 L599.6,956.6 L602.7,955.3 L606.0,954.1 L609.4,952.9 L613.0,951.8 L616.8,950.8 L620.7,949.7 L624.8,948.8 L629.0,947.8 L633.3,947.0 L637.8,946.2 L642.4,945.4 L647.1,944.7 L651.8,944.1 L656.7,943.5 L661.6,943.0 L666.6,942.6 L671.7,942.2 L676.8,941.9 L682.0,941.7 L687.2,941.5 L692.4,941.4 L697.6,941.4 L702.8,941.4 L708.0,941.5 L713.2,941.7 L718.4,941.9 L723.5,942.2 L728.6,942.6 L733.6,943.0 L738.5,943.5 L743.4,944.1 L748.1,944.7 L752.8,945.4 L757.4,946.2 L761.9,947.0 L766.2,947.8 L770.4,948.8 L774.5,949.7 L778.4,950.8 L782.2,951.8 L785.8,952.9 L789.2,954.1 L792.5,955.3 L795.6,956.6 L798.5,957.9 L801.2,959.2 L803.7,960.6 L806.0,962.0 L808.1,963.4 L810.0,964.8 L811.7,966.3 L813.1,967.8" stroke-width="3" stroke-dasharray="2 22"/>
<path d="M674.5,890 L674.5,962 L718.5,962 L718.5,890" fill="#fff"/>
<ellipse cx="696.5" cy="890.0" rx="22.0" ry="9.0" fill="#fff"/>
<ellipse cx="697.5" cy="891.0" rx="8.0" ry="4.0" fill="#888" stroke-width="1.2"/>
<path d="M675.5,975 L717.5,975 M677,975 Q697,994 716,975" fill="#fff"/>
<polygon points="890.7,866.4 890.4,871.3 889.6,876.2 888.3,881.1 886.4,885.9 884.1,890.7 881.2,895.4 877.7,900.1 873.8,904.6 869.4,909.1 864.6,913.4 859.2,917.6 853.5,921.7 847.2,925.6 840.6,929.3 833.6,932.9 826.2,936.3 818.4,939.5 810.3,942.4 801.9,945.2 793.2,947.8 784.2,950.2 775.0,952.3 765.6,954.2 756.0,955.8 746.2,957.2 736.2,958.3 726.2,959.2 716.1,959.9 705.9,960.3 695.7,960.4 685.5,960.3 675.3,959.9 665.2,959.2 655.2,958.3 645.2,957.2 635.4,955.8 625.8,954.2 616.4,952.3 607.2,950.2 598.2,947.8 589.5,945.2 581.1,942.4 573.0,939.5 565.2,936.3 557.8,932.9 550.8,929.3 544.2,925.6 537.9,921.7 532.2,917.6 526.8,913.4 522.0,909.1 517.6,904.6 513.7,900.1 510.2,895.4 507.3,890.7 505.0,885.9 503.1,881.1 501.8,876.2 501.0,871.3 500.7,866.4 500.7,877.9 501.0,882.8 501.8,887.7 503.1,892.6 505.0,897.4 507.3,902.2 510.2,906.9 513.7,911.6 517.6,916.1 522.0,920.6 526.8,924.9 532.2,929.1 537.9,933.2 544.2,937.1 550.8,940.8 557.8,944.4 565.2,947.8 573.0,951.0 581.1,953.9 589.5,956.7 598.2,959.3 607.2,961.7 616.4,963.8 625.8,965.7 635.4,967.3 645.2,968.7 655.2,969.8 665.2,970.7 675.3,971.4 685.5,971.8 695.7,971.9 705.9,971.8 716.1,971.4 726.2,970.7 736.2,969.8 746.2,968.7 756.0,967.3 765.6,965.7 775.0,963.8 784.2,961.7 793.2,959.3 801.9,956.7 810.3,953.9 818.4,951.0 826.2,947.8 833.6,944.4 840.6,940.8 847.2,937.1 853.5,933.2 859.2,929.1 864.6,924.9 869.4,920.6 873.8,916.1 877.7,911.6 881.2,906.9 884.1,902.2 886.4,897.4 888.3,892.6 889.6,887.7 890.4,882.8 890.7,877.9" fill="#fff" stroke="none"/>
<path d="M890.7,866.4 L890.4,871.3 L889.6,876.2 L888.3,881.1 L886.4,885.9 L884.1,890.7 L881.2,895.4 L877.7,900.1 L873.8,904.6 L869.4,909.1 L864.6,913.4 L859.2,917.6 L853.5,921.7 L847.2,925.6 L840.6,929.3 L833.6,932.9 L826.2,936.3 L818.4,939.5 L810.3,942.4 L801.9,945.2 L793.2,947.8 L784.2,950.2 L775.0,952.3 L765.6,954.2 L756.0,955.8 L746.2,957.2 L736.2,958.3 L726.2,959.2 L716.1,959.9 L705.9,960.3 L695.7,960.4 L685.5,960.3 L675.3,959.9 L665.2,959.2 L655.2,958.3 L645.2,957.2 L635.4,955.8 L625.8,954.2 L616.4,952.3 L607.2,950.2 L598.2,947.8 L589.5,945.2 L581.1,942.4 L573.0,939.5 L565.2,936.3 L557.8,932.9 L550.8,929.3 L544.2,925.6 L537.9,921.7 L532.2,917.6 L526.8,913.4 L522.0,909.1 L517.6,904.6 L513.7,900.1 L510.2,895.4 L507.3,890.7 L505.0,885.9 L503.1,881.1 L501.8,876.2 L501.0,871.3 L500.7,866.4" stroke-width="2"/>
<path d="M887.7,894.2 L886.0,898.5 L883.8,902.8 L881.2,906.9 L878.2,911.1 L874.8,915.1 L871.0,919.1 L866.8,923.0 L862.3,926.8 L857.4,930.5 L852.1,934.0 L846.5,937.5 L840.6,940.8 L834.4,944.0 L827.9,947.0 L821.0,949.9 L814.0,952.6 L806.6,955.2 L799.0,957.6 L791.2,959.8 L783.2,961.9 L775.0,963.8 L766.6,965.5 L758.1,967.0 L749.4,968.3 L740.7,969.4 L731.8,970.3 L722.8,971.0 L713.8,971.5 L704.8,971.8 L695.7,971.9 L686.6,971.8 L677.6,971.5 L668.6,971.0 L659.6,970.3 L650.7,969.4 L642.0,968.3 L633.3,967.0 L624.8,965.5 L616.4,963.8 L608.2,961.9 L600.2,959.8 L592.4,957.6 L584.8,955.2 L577.4,952.6 L570.4,949.9 L563.5,947.0 L557.0,944.0 L550.8,940.8 L544.9,937.5 L539.3,934.0 L534.0,930.5 L529.1,926.8 L524.6,923.0 L520.4,919.1 L516.6,915.1 L513.2,911.1 L510.2,906.9 L507.6,902.8 L505.4,898.5 L503.7,894.2"/>
<path d="M886.4,894.9 L885.3,897.4 L883.9,899.9 L882.5,902.4 L880.9,904.8 L879.2,907.2 L877.3,909.6 L875.3,912.0 L873.2,914.4 L870.9,916.7 L868.5,918.9 L866.0,921.2 L863.3,923.4 L860.6,925.6 L857.7,927.7 L854.6,929.9 L851.5,931.9 L848.3,933.9 L844.9,935.9 L841.4,937.9 L837.8,939.7 L834.2,941.6 L830.4,943.4 L826.5,945.1 L822.5,946.8 L818.4,948.5 L814.2,950.0 L810.0,951.6 L805.6,953.0 L801.2,954.4 L796.7,955.8 L792.1,957.1 L787.5,958.3 L782.8,959.5 L778.0,960.6 L773.1,961.7 L768.2,962.7 L763.3,963.6 L758.3,964.4 L753.2,965.2 L748.1,965.9 L743.0,966.6 L737.8,967.2 L732.6,967.7 L727.4,968.1 L722.2,968.5 L716.9,968.8 L711.6,969.1 L706.3,969.3 L701.0,969.4 L695.7,969.4 L690.4,969.4 L685.1,969.3 L679.8,969.1 L674.5,968.8 L669.2,968.5 L664.0,968.1 L658.8,967.7 L653.6,967.2 L648.4,966.6 L643.3,965.9 L638.2,965.2 L633.1,964.4 L628.1,963.6 L623.2,962.7 L618.3,961.7 L613.4,960.6 L608.6,959.5 L603.9,958.3 L599.3,957.1 L594.7,955.8 L590.2,954.4 L585.8,953.0 L581.4,951.6 L577.2,950.0 L573.0,948.5 L568.9,946.8 L564.9,945.1 L561.0,943.4 L557.2,941.6 L553.6,939.7 L550.0,937.9 L546.5,935.9 L543.1,933.9 L539.9,931.9 L536.8,929.9 L533.7,927.7 L530.8,925.6 L528.1,923.4 L525.4,921.2 L522.9,918.9 L520.5,916.7 L518.2,914.4 L516.1,912.0 L514.1,909.6 L512.2,907.2 L510.5,904.8 L508.9,902.4 L507.5,899.9 L506.1,897.4 L505.0,894.9" stroke-width="3" stroke-dasharray="2 24"/>
<polygon points="825.2,969.5 825.0,971.8 824.5,974.1 823.6,976.3 822.4,978.6 820.9,980.8 819.0,983.0 816.7,985.1 814.2,987.2 811.3,989.3 808.1,991.3 804.6,993.2 800.8,995.1 796.8,996.9 792.4,998.7 787.8,1000.3 783.0,1001.9 777.9,1003.4 772.6,1004.8 767.1,1006.1 761.4,1007.3 755.5,1008.3 749.5,1009.3 743.3,1010.2 737.0,1011.0 730.6,1011.6 724.1,1012.1 717.6,1012.6 710.9,1012.9 704.3,1013.0 697.6,1013.1 690.9,1013.0 684.3,1012.9 677.6,1012.6 671.1,1012.1 664.6,1011.6 658.2,1011.0 651.9,1010.2 645.7,1009.3 639.7,1008.3 633.8,1007.3 628.1,1006.1 622.6,1004.8 617.3,1003.4 612.2,1001.9 607.4,1000.3 602.8,998.7 598.4,996.9 594.4,995.1 590.6,993.2 587.1,991.3 583.9,989.3 581.0,987.2 578.5,985.1 576.2,983.0 574.3,980.8 572.8,978.6 571.6,976.3 570.7,974.1 570.2,971.8 570.0,969.5 570.0,981.5 570.2,983.8 570.7,986.1 571.6,988.3 572.8,990.6 574.3,992.8 576.2,995.0 578.5,997.1 581.0,999.2 583.9,1001.3 587.1,1003.3 590.6,1005.2 594.4,1007.1 598.4,1008.9 602.8,1010.7 607.4,1012.3 612.2,1013.9 617.3,1015.4 622.6,1016.8 628.1,1018.1 633.8,1019.3 639.7,1020.3 645.7,1021.3 651.9,1022.2 658.2,1023.0 664.6,1023.6 671.1,1024.1 677.6,1024.6 684.3,1024.9 690.9,1025.0 697.6,1025.1 704.3,1025.0 710.9,1024.9 717.6,1024.6 724.1,1024.1 730.6,1023.6 737.0,1023.0 743.3,1022.2 749.5,1021.3 755.5,1020.3 761.4,1019.3 767.1,1018.1 772.6,1016.8 777.9,1015.4 783.0,1013.9 787.8,1012.3 792.4,1010.7 796.8,1008.9 800.8,1007.1 804.6,1005.2 808.1,1003.3 811.3,1001.3 814.2,999.2 816.7,997.1 819.0,995.0 820.9,992.8 822.4,990.6 823.6,988.3 824.5,986.1 825.0,983.8 825.2,981.5" fill="#fff" stroke="none"/>
<path d="M825.2,969.5 L825.0,971.8 L824.5,974.1 L823.6,976.3 L822.4,978.6 L820.9,980.8 L819.0,983.0 L816.7,985.1 L814.2,987.2 L811.3,989.3 L808.1,991.3 L804.6,993.2 L800.8,995.1 L796.8,996.9 L792.4,998.7 L787.8,1000.3 L783.0,1001.9 L777.9,1003.4 L772.6,1004.8 L767.1,1006.1 L761.4,1007.3 L755.5,1008.3 L749.5,1009.3 L743.3,1010.2 L737.0,1011.0 L730.6,1011.6 L724.1,1012.1 L717.6,1012.6 L710.9,1012.9 L704.3,1013.0 L697.6,1013.1 L690.9,1013.0 L684.3,1012.9 L677.6,1012.6 L671.1,1012.1 L664.6,1011.6 L658.2,1011.0 L651.9,1010.2 L645.7,1009.3 L639.7,1008.3 L633.8,1007.3 L628.1,1006.1 L622.6,1004.8 L617.3,1003.4 L612.2,1001.9 L607.4,1000.3 L602.8,998.7 L598.4,996.9 L594.4,995.1 L590.6,993.2 L587.1,991.3 L583.9,989.3 L581.0,987.2 L578.5,985.1 L576.2,983.0 L574.3,980.8 L572.8,978.6 L571.6,976.3 L570.7,974.1 L570.2,971.8 L570.0,969.5" stroke-width="2"/>
<path d="M823.3,989.1 L822.1,991.1 L820.7,993.0 L819.0,995.0 L817.0,996.9 L814.8,998.8 L812.3,1000.6 L809.6,1002.4 L806.6,1004.2 L803.4,1005.9 L800.0,1007.5 L796.3,1009.1 L792.4,1010.7 L788.4,1012.1 L784.1,1013.6 L779.6,1014.9 L775.0,1016.2 L770.2,1017.4 L765.2,1018.5 L760.1,1019.5 L754.9,1020.5 L749.5,1021.3 L744.0,1022.1 L738.4,1022.8 L732.8,1023.4 L727.0,1023.9 L721.2,1024.3 L715.4,1024.7 L709.5,1024.9 L703.5,1025.1 L697.6,1025.1 L691.7,1025.1 L685.7,1024.9 L679.8,1024.7 L674.0,1024.3 L668.2,1023.9 L662.4,1023.4 L656.8,1022.8 L651.2,1022.1 L645.7,1021.3 L640.3,1020.5 L635.1,1019.5 L630.0,1018.5 L625.0,1017.4 L620.2,1016.2 L615.6,1014.9 L611.1,1013.6 L606.8,1012.1 L602.8,1010.7 L598.9,1009.1 L595.2,1007.5 L591.8,1005.9 L588.6,1004.2 L585.6,1002.4 L582.9,1000.6 L580.4,998.8 L578.2,996.9 L576.2,995.0 L574.5,993.0 L573.1,991.1 L571.9,989.1"/>
<path d="M822.4,988.1 L821.4,989.5 L820.3,990.9 L819.1,992.4 L817.7,993.8 L816.1,995.2 L814.4,996.5 L812.6,997.9 L810.7,999.2 L808.6,1000.5 L806.4,1001.8 L804.1,1003.0 L801.6,1004.3 L799.0,1005.5 L796.3,1006.6 L793.5,1007.7 L790.6,1008.8 L787.6,1009.9 L784.5,1010.9 L781.2,1011.9 L777.9,1012.9 L774.5,1013.8 L771.0,1014.7 L767.4,1015.5 L763.7,1016.3 L759.9,1017.0 L756.1,1017.7 L752.2,1018.4 L748.3,1019.0 L744.3,1019.6 L740.2,1020.1 L736.1,1020.6 L731.9,1021.0 L727.7,1021.4 L723.5,1021.7 L719.2,1022.0 L714.9,1022.2 L710.6,1022.4 L706.3,1022.5 L701.9,1022.6 L697.6,1022.6 L693.3,1022.6 L688.9,1022.5 L684.6,1022.4 L680.3,1022.2 L676.0,1022.0 L671.7,1021.7 L667.5,1021.4 L663.3,1021.0 L659.1,1020.6 L655.0,1020.1 L650.9,1019.6 L646.9,1019.0 L643.0,1018.4 L639.1,1017.7 L635.3,1017.0 L631.5,1016.3 L627.8,1015.5 L624.2,1014.7 L620.7,1013.8 L617.3,1012.9 L614.0,1011.9 L610.7,1010.9 L607.6,1009.9 L604.6,1008.8 L601.7,1007.7 L598.9,1006.6 L596.2,1005.5 L593.6,1004.3 L591.1,1003.0 L588.8,1001.8 L586.6,1000.5 L584.5,999.2 L582.6,997.9 L580.8,996.5 L579.1,995.2 L577.5,993.8 L576.1,992.4 L574.9,990.9 L573.8,989.5 L572.8,988.1" stroke-width="3" stroke-dasharray="2 22"/>
<ellipse cx="697.0" cy="1072.0" rx="55.5" ry="21.0" stroke-width="2.3" fill="#fff"/>
<path d="M668,1065 Q697,1060 725,1065" stroke-width="2"/>
<path d="M668,1062.5 L668,1063 M697,1059.5 L697,1060 M724.5,1062.5 L724.5,1063" stroke-width="3.5"/>
<path d="M662,1070 Q668,1084 677,1089 Q682,1093 690,1093 L705,1093 Q713,1093 718,1089 Q727,1084 732,1070" stroke-width="3.2"/>
<ellipse cx="664" cy="1077" rx="6.5" ry="10" transform="rotate(-35 664 1077)" stroke-width="3"/>
<ellipse cx="660" cy="1083" rx="5" ry="8" transform="rotate(-35 664 1083)" stroke-width="2.5"/>
<ellipse cx="730" cy="1077" rx="6.5" ry="10" transform="rotate(35 730 1077)" stroke-width="3"/>
<ellipse cx="734" cy="1083" rx="5" ry="8" transform="rotate(35 730 1083)" stroke-width="2.5"/>
<path d="M655,1096 Q697,1104 739,1096" stroke-width="1.6"/>
<path d="M672,1099 L672,1100 M697,1101 L697,1102 M722,1099 L722,1100" stroke-width="3.5"/>
<polygon points="358.2,631.0 372.4,646.0 372.4,786.3 367.9,786.3 358.2,766.0" fill="#fff"/><polygon points="367.9,647.0 372.4,646.0 372.4,786.3 367.9,786.3" fill="#dcdcdc" stroke="none"/><polygon points="358.2,631.0 372.4,646.0 372.4,786.3 367.9,786.3 358.2,766.0" fill="none"/><path d="M367.9,648.0 L367.9,785.3" stroke-width="1.5" stroke="#555"/>
<polygon points="380.9,664.0 416.7,686.0 416.7,826.2 380.9,804.2" fill="#fff"/><polygon points="410.7,682.3 416.7,686.0 416.7,826.2 410.7,822.5" fill="#d8d8d8" stroke="none"/><polygon points="380.9,664.0 416.7,686.0 416.7,826.2 380.9,804.2" fill="none"/><path d="M410.7,682.3 L410.7,822.5" stroke-width="1.6" stroke="#555"/><path d="M381.9,665.0 L392.0,706.6 L410.7,683.3 M392.0,706.6 L392.0,787.0 M381.9,803.2 L392.0,787.0 L410.7,821.5" stroke-width="1.3"/>
<ellipse cx="396.7" cy="670.9" rx="5" ry="7" stroke-width="2.8" fill="none"/><ellipse cx="396.7" cy="678.9" rx="3.5" ry="5" stroke-width="2.2" fill="none"/>
<ellipse cx="362.0" cy="628" rx="5" ry="7" stroke-width="2.8" fill="none"/><ellipse cx="362.0" cy="636" rx="3.5" ry="5" stroke-width="2.2" fill="none"/>
<polygon points="426.9,750.0 442.0,747.5 442.0,887.5 437.5,887.5 426.9,866.0" fill="#fff"/><polygon points="437.5,748.5 442.0,747.5 442.0,887.5 437.5,887.5" fill="#dcdcdc" stroke="none"/><polygon points="426.9,750.0 442.0,747.5 442.0,887.5 437.5,887.5 426.9,866.0" fill="none"/><path d="M437.5,749.5 L437.5,886.5" stroke-width="1.5" stroke="#555"/>
<ellipse cx="433.8" cy="738.8" rx="5" ry="7" stroke-width="2.8" fill="none"/><ellipse cx="433.8" cy="746.8" rx="3.5" ry="5" stroke-width="2.2" fill="none"/>
<polygon points="497.8,910.0 513.3,908.8 513.3,1048.0 508.8,1048.0 497.8,1029.0" fill="#fff"/><polygon points="508.8,909.8 513.3,908.8 513.3,1048.0 508.8,1048.0" fill="#dcdcdc" stroke="none"/><polygon points="497.8,910.0 513.3,908.8 513.3,1048.0 508.8,1048.0 497.8,1029.0" fill="none"/><path d="M508.8,910.8 L508.8,1047.0" stroke-width="1.5" stroke="#555"/>
<polygon points="514.2,928.0 550.0,951.4 550.0,1090.0 514.2,1067.7" fill="#fff"/><polygon points="543.0,946.8 550.0,951.4 550.0,1090.0 543.0,1085.6" fill="#d8d8d8" stroke="none"/><polygon points="514.2,928.0 550.0,951.4 550.0,1090.0 514.2,1067.7" fill="none"/><path d="M543.0,946.8 L543.0,1085.6" stroke-width="1.6" stroke="#555"/><path d="M515.2,929.0 L525.9,968.8 L543.0,947.8 M525.9,968.8 L525.9,1052.0 M515.2,1066.7 L525.9,1052.0 L543.0,1084.6" stroke-width="1.3"/>
<polygon points="566.8,1004.0 582.2,1002.6 582.2,1144.8 577.7,1144.8 566.8,1125.8" fill="#fff"/><polygon points="577.7,1003.6 582.2,1002.6 582.2,1144.8 577.7,1144.8" fill="#dcdcdc" stroke="none"/><polygon points="566.8,1004.0 582.2,1002.6 582.2,1144.8 577.7,1144.8 566.8,1125.8" fill="none"/><path d="M577.7,1004.6 L577.7,1143.8" stroke-width="1.5" stroke="#555"/>
<polygon points="588.5,1013.5 627.5,1029.8 627.5,1169.3 588.5,1146.6" fill="#fff"/><polygon points="619.5,1026.5 627.5,1029.8 627.5,1169.3 619.5,1164.6" fill="#d8d8d8" stroke="none"/><polygon points="588.5,1013.5 627.5,1029.8 627.5,1169.3 588.5,1146.6" fill="none"/><path d="M619.5,1026.5 L619.5,1164.6" stroke-width="1.6" stroke="#555"/><path d="M589.5,1014.5 L602.0,1049.7 L619.5,1027.5 M602.0,1049.7 L602.0,1131.0 M589.5,1145.6 L602.0,1131.0 L619.5,1163.6" stroke-width="1.3"/>
<polygon points="638.3,1092.0 653.7,1096.8 653.7,1245.4 649.2,1245.4 638.3,1225.4" fill="#fff"/><polygon points="649.2,1097.8 653.7,1096.8 653.7,1245.4 649.2,1245.4" fill="#dcdcdc" stroke="none"/><polygon points="638.3,1092.0 653.7,1096.8 653.7,1245.4 649.2,1245.4 638.3,1225.4" fill="none"/><path d="M649.2,1098.8 L649.2,1244.4" stroke-width="1.5" stroke="#555"/>
<polygon points="653.7,1095.0 689.0,1095.0 689.0,1236.3 653.7,1212.8" fill="#fff"/><polygon points="682.0,1095.0 689.0,1095.0 689.0,1236.3 682.0,1231.6" fill="#d8d8d8" stroke="none"/><polygon points="653.7,1095.0 689.0,1095.0 689.0,1236.3 653.7,1212.8" fill="none"/><path d="M682.0,1095.0 L682.0,1231.6" stroke-width="1.6" stroke="#555"/><path d="M654.7,1096.0 L663.7,1115.0 L682.0,1096.0 M663.7,1115.0 L663.7,1196.4 M654.7,1211.8 L663.7,1196.4 L682.0,1230.6" stroke-width="1.3"/>
<polygon points="1035.8,631.0 1021.6,646.0 1021.6,786.3 1026.1,786.3 1035.8,766.0" fill="#fff"/><polygon points="1026.1,647.0 1021.6,646.0 1021.6,786.3 1026.1,786.3" fill="#dcdcdc" stroke="none"/><polygon points="1035.8,631.0 1021.6,646.0 1021.6,786.3 1026.1,786.3 1035.8,766.0" fill="none"/><path d="M1026.1,648.0 L1026.1,785.3" stroke-width="1.5" stroke="#555"/>
<polygon points="1013.1,664.0 977.3,686.0 977.3,826.2 1013.1,804.2" fill="#fff"/><polygon points="983.3,682.3 977.3,686.0 977.3,826.2 983.3,822.5" fill="#d8d8d8" stroke="none"/><polygon points="1013.1,664.0 977.3,686.0 977.3,826.2 1013.1,804.2" fill="none"/><path d="M983.3,682.3 L983.3,822.5" stroke-width="1.6" stroke="#555"/><path d="M1012.1,665.0 L1002.0,706.6 L983.3,683.3 M1002.0,706.6 L1002.0,787.0 M1012.1,803.2 L1002.0,787.0 L983.3,821.5" stroke-width="1.3"/>
<ellipse cx="997.3" cy="670.9" rx="5" ry="7" stroke-width="2.8" fill="none"/><ellipse cx="997.3" cy="678.9" rx="3.5" ry="5" stroke-width="2.2" fill="none"/>
<ellipse cx="1032.0" cy="628" rx="5" ry="7" stroke-width="2.8" fill="none"/><ellipse cx="1032.0" cy="636" rx="3.5" ry="5" stroke-width="2.2" fill="none"/>
<polygon points="967.1,750.0 952.0,747.5 952.0,887.5 956.5,887.5 967.1,866.0" fill="#fff"/><polygon points="956.5,748.5 952.0,747.5 952.0,887.5 956.5,887.5" fill="#dcdcdc" stroke="none"/><polygon points="967.1,750.0 952.0,747.5 952.0,887.5 956.5,887.5 967.1,866.0" fill="none"/><path d="M956.5,749.5 L956.5,886.5" stroke-width="1.5" stroke="#555"/>
<ellipse cx="960.2" cy="738.8" rx="5" ry="7" stroke-width="2.8" fill="none"/><ellipse cx="960.2" cy="746.8" rx="3.5" ry="5" stroke-width="2.2" fill="none"/>
<polygon points="896.2,910.0 880.7,908.8 880.7,1048.0 885.2,1048.0 896.2,1029.0" fill="#fff"/><polygon points="885.2,909.8 880.7,908.8 880.7,1048.0 885.2,1048.0" fill="#dcdcdc" stroke="none"/><polygon points="896.2,910.0 880.7,908.8 880.7,1048.0 885.2,1048.0 896.2,1029.0" fill="none"/><path d="M885.2,910.8 L885.2,1047.0" stroke-width="1.5" stroke="#555"/>
<polygon points="879.8,928.0 844.0,951.4 844.0,1090.0 879.8,1067.7" fill="#fff"/><polygon points="851.0,946.8 844.0,951.4 844.0,1090.0 851.0,1085.6" fill="#d8d8d8" stroke="none"/><polygon points="879.8,928.0 844.0,951.4 844.0,1090.0 879.8,1067.7" fill="none"/><path d="M851.0,946.8 L851.0,1085.6" stroke-width="1.6" stroke="#555"/><path d="M878.8,929.0 L868.1,968.8 L851.0,947.8 M868.1,968.8 L868.1,1052.0 M878.8,1066.7 L868.1,1052.0 L851.0,1084.6" stroke-width="1.3"/>
<polygon points="827.2,1004.0 811.8,1002.6 811.8,1144.8 816.3,1144.8 827.2,1125.8" fill="#fff"/><polygon points="816.3,1003.6 811.8,1002.6 811.8,1144.8 816.3,1144.8" fill="#dcdcdc" stroke="none"/><polygon points="827.2,1004.0 811.8,1002.6 811.8,1144.8 816.3,1144.8 827.2,1125.8" fill="none"/><path d="M816.3,1004.6 L816.3,1143.8" stroke-width="1.5" stroke="#555"/>
<polygon points="805.5,1013.5 766.5,1029.8 766.5,1169.3 805.5,1146.6" fill="#fff"/><polygon points="774.5,1026.5 766.5,1029.8 766.5,1169.3 774.5,1164.6" fill="#d8d8d8" stroke="none"/><polygon points="805.5,1013.5 766.5,1029.8 766.5,1169.3 805.5,1146.6" fill="none"/><path d="M774.5,1026.5 L774.5,1164.6" stroke-width="1.6" stroke="#555"/><path d="M804.5,1014.5 L792.0,1049.7 L774.5,1027.5 M792.0,1049.7 L792.0,1131.0 M804.5,1145.6 L792.0,1131.0 L774.5,1163.6" stroke-width="1.3"/>
<polygon points="755.7,1092.0 740.3,1096.8 740.3,1245.4 744.8,1245.4 755.7,1225.4" fill="#fff"/><polygon points="744.8,1097.8 740.3,1096.8 740.3,1245.4 744.8,1245.4" fill="#dcdcdc" stroke="none"/><polygon points="755.7,1092.0 740.3,1096.8 740.3,1245.4 744.8,1245.4 755.7,1225.4" fill="none"/><path d="M744.8,1098.8 L744.8,1244.4" stroke-width="1.5" stroke="#555"/>
<polygon points="740.3,1095.0 705.0,1095.0 705.0,1236.3 740.3,1212.8" fill="#fff"/><polygon points="712.0,1095.0 705.0,1095.0 705.0,1236.3 712.0,1231.6" fill="#d8d8d8" stroke="none"/><polygon points="740.3,1095.0 705.0,1095.0 705.0,1236.3 740.3,1212.8" fill="none"/><path d="M712.0,1095.0 L712.0,1231.6" stroke-width="1.6" stroke="#555"/><path d="M739.3,1096.0 L730.3,1115.0 L712.0,1096.0 M730.3,1115.0 L730.3,1196.4 M739.3,1211.8 L730.3,1196.4 L712.0,1230.6" stroke-width="1.3"/>
<ellipse cx="501" cy="878" rx="5.5" ry="9" transform="rotate(-30 501 878)" stroke-width="3" fill="none"/><ellipse cx="504" cy="887" rx="4.5" ry="7" transform="rotate(-30 501 887)" stroke-width="2.6" fill="none"/>
<ellipse cx="573" cy="984" rx="5.5" ry="9" transform="rotate(-30 573 984)" stroke-width="3" fill="none"/><ellipse cx="576" cy="993" rx="4.5" ry="7" transform="rotate(-30 573 993)" stroke-width="2.6" fill="none"/>
<ellipse cx="641" cy="1068" rx="5.5" ry="9" transform="rotate(-30 641 1068)" stroke-width="3" fill="none"/><ellipse cx="644" cy="1077" rx="4.5" ry="7" transform="rotate(-30 641 1077)" stroke-width="2.6" fill="none"/>
<ellipse cx="893" cy="878" rx="5.5" ry="9" transform="rotate(30 893 878)" stroke-width="3" fill="none"/><ellipse cx="890" cy="887" rx="4.5" ry="7" transform="rotate(30 893 887)" stroke-width="2.6" fill="none"/>
<ellipse cx="821" cy="984" rx="5.5" ry="9" transform="rotate(30 821 984)" stroke-width="3" fill="none"/><ellipse cx="818" cy="993" rx="4.5" ry="7" transform="rotate(30 821 993)" stroke-width="2.6" fill="none"/>
<ellipse cx="753" cy="1068" rx="5.5" ry="9" transform="rotate(30 753 1068)" stroke-width="3" fill="none"/><ellipse cx="750" cy="1077" rx="4.5" ry="7" transform="rotate(30 753 1077)" stroke-width="2.6" fill="none"/>
<path d="M440,790 L497,874" stroke="#151515" stroke-width="6.5"/><path d="M440,790 L497,874" stroke="#fff" stroke-width="2" stroke-dasharray="2 4.5" stroke-linecap="butt"/>
<path d="M954,790 L897,874" stroke="#151515" stroke-width="6.5"/><path d="M954,790 L897,874" stroke="#fff" stroke-width="2" stroke-dasharray="2 4.5" stroke-linecap="butt"/>
<path d="M505,889 L571,983" stroke="#151515" stroke-width="6.5"/><path d="M505,889 L571,983" stroke="#fff" stroke-width="2" stroke-dasharray="2 4.5" stroke-linecap="butt"/>
<path d="M889,889 L823,983" stroke="#151515" stroke-width="6.5"/><path d="M889,889 L823,983" stroke="#fff" stroke-width="2" stroke-dasharray="2 4.5" stroke-linecap="butt"/>
<path d="M575,992 L637,1070" stroke="#151515" stroke-width="6.5"/><path d="M575,992 L637,1070" stroke="#fff" stroke-width="2" stroke-dasharray="2 4.5" stroke-linecap="butt"/>
<path d="M819,992 L757,1070" stroke="#151515" stroke-width="6.5"/><path d="M819,992 L757,1070" stroke="#fff" stroke-width="2" stroke-dasharray="2 4.5" stroke-linecap="butt"/>
<ellipse cx="696.3" cy="249.5" rx="71.0" ry="28.5" fill="#fff" stroke-width="2.4"/>
<ellipse cx="696.3" cy="250.5" rx="65.0" ry="24.0" stroke-width="2.4" stroke-dasharray="9 3" stroke-linecap="butt"/>
<ellipse cx="696.3" cy="251.0" rx="58.5" ry="19.5" stroke-width="4" stroke="#222" stroke-dasharray="2.5 4" stroke-linecap="butt"/>
<ellipse cx="697.0" cy="252.5" rx="51.5" ry="14.5" stroke-width="2.4" stroke-dasharray="12 3" stroke-linecap="butt"/>
<ellipse cx="698.0" cy="252.5" rx="44.0" ry="9.0" fill="#fff" stroke-width="2.4"/>
<ellipse cx="697.0" cy="251.0" rx="30.0" ry="4.5" stroke-width="2" stroke="#444"/>
<path d="M675,244 L675,245 M703,247 L703,248 M690,241 L690,242 M720,243 L720,244" stroke-width="3.5"/>
<path d="M627,258 Q640,279 697,280 Q752,279 766,258" stroke-width="3"/>
<path d="M640,268 Q697,287 752,268" stroke-width="2.5" stroke="#666"/>
<path d="M637,239 Q631,250 639,263 M756,239 Q762,250 754,263" stroke-width="6" stroke="#1a1a1a"/>
<rect x="630.5" y="252" width="9.5" height="42" rx="3" fill="#111" stroke="none"/>
<rect x="754" y="252" width="9.5" height="44" rx="3" fill="#111" stroke="none"/>
<rect x="651.5" y="297" width="7.5" height="27" rx="2" fill="#000" stroke="none"/>
<circle cx="655" cy="326" r="7.2" fill="#000" stroke="none"/>
<rect x="737" y="299" width="7.5" height="27" rx="2" fill="#000" stroke="none"/>
<circle cx="740.8" cy="328.3" r="7.2" fill="#000" stroke="none"/>
<path d="M672,305 Q671,297 675,296 Q676,291 678.6,292 Q681,291 682,296 Q686,297 685,305 Q679,310 672,305 Z" fill="#000" stroke="none"/>
<path d="M633,296 L633,620" stroke-width="1.6" stroke-dasharray="14 4 2 4"/>
<path d="M759.5,296 L759.5,620" stroke-width="1.6" stroke-dasharray="14 4 2 4"/>
<ellipse cx="634" cy="531" rx="6.5" ry="4" fill="#000" stroke="none"/>
<rect x="625" y="550" width="18" height="24" rx="3" fill="#111" stroke="none"/>
<ellipse cx="634" cy="551" rx="8" ry="3.5" fill="#fff" stroke="#111" stroke-width="1.5"/>
<ellipse cx="760" cy="531" rx="6.5" ry="4" fill="#000" stroke="none"/>
<rect x="751" y="550" width="18" height="24" rx="3" fill="#111" stroke="none"/>
<ellipse cx="760" cy="551" rx="8" ry="3.5" fill="#fff" stroke="#111" stroke-width="1.5"/>
<path d="M705,281 L705.5,318" stroke="#888" stroke-width="3"/>
<path d="M705.5,318 C707,335 720,352 745,360 C765,366 795,368 826,364" stroke="#1a1a1a" stroke-width="2.8" stroke-dasharray="3.5 1.1" stroke-linecap="butt"/>
<path d="M689,282 C692,310 698,335 712,357 C725,378 742,391 760,394 C785,396 805,390 829,388" stroke="#1a1a1a" stroke-width="2.8" stroke-dasharray="3.5 1.1" stroke-linecap="butt"/>
<path d="M697,480 C696,440 705,400 728,384 C740,375 752,371 765,368" stroke="#1a1a1a" stroke-width="2.8" stroke-dasharray="3.5 1.1" stroke-linecap="butt"/>
<path d="M700,480 C703,445 722,412 750,402 C765,397 775,394 790,391" stroke="#1a1a1a" stroke-width="2.8" stroke-dasharray="3.5 1.1" stroke-linecap="butt"/>
<path d="M705,486 C740,485 765,470 780,445 C792,425 805,418 828,418" stroke-width="3"/>
<ellipse cx="697.0" cy="483.0" rx="10.0" ry="6.0" fill="#fff" stroke-width="3.5"/>
<ellipse cx="697.0" cy="483.0" rx="4.0" ry="2.5" stroke-width="1.5"/>
<g transform="translate(827.5,360.2) rotate(0)" stroke="none"><path d="M1,-9.5 Q-3,0 1,9.5 L8,9 L8,-9 Z" fill="#111"/><path d="M8,-8.6 L20,-7.6 L20,7.6 L8,8.6 Z" fill="#fff" stroke="#111" stroke-width="1.4"/><path d="M19.5,-7.8 L33,-7 Q39,0 33,7 L19.5,7.8 Z" fill="#111"/><path d="M22,-3 L34,-2.5" stroke="#555" stroke-width="1.2"/></g>
<g transform="translate(829.5,387.9) rotate(0)" stroke="none"><path d="M1,-9.5 Q-3,0 1,9.5 L8,9 L8,-9 Z" fill="#111"/><path d="M8,-8.6 L20,-7.6 L20,7.6 L8,8.6 Z" fill="#fff" stroke="#111" stroke-width="1.4"/><path d="M19.5,-7.8 L33,-7 Q39,0 33,7 L19.5,7.8 Z" fill="#111"/><path d="M22,-3 L34,-2.5" stroke="#555" stroke-width="1.2"/></g>
<g transform="translate(835.5,419.5) rotate(21)" stroke="none"><path d="M1,-9.5 Q-3,0 1,9.5 L8,9 L8,-9 Z" fill="#111"/><path d="M8,-8.6 L20,-7.6 L20,7.6 L8,8.6 Z" fill="#fff" stroke="#111" stroke-width="1.4"/><path d="M19.5,-7.8 L33,-7 Q39,0 33,7 L19.5,7.8 Z" fill="#111"/><path d="M22,-3 L34,-2.5" stroke="#555" stroke-width="1.2"/></g>
<path d="M852,703 L1064,737" stroke-width="1.3" stroke-dasharray="12 3 2 3"/>
<path d="M1104,731 C1115,722 1135,719 1158,726 C1178,733 1192,745 1200,757 C1192,768 1170,775 1142,775 C1122,774 1110,764 1103,755 Z" fill="#fff" stroke-width="2"/>
<path d="M1064,738 L1071,730 L1090,731 L1090,752 L1072,752 L1066,746 Z" fill="#666" stroke="#111" stroke-width="2.2"/>
<path d="M1090,731 L1105,731 L1105,756 L1090,752 Z" fill="#fff" stroke-width="2"/>
<path d="M1095,731 L1096,754 M1100,731 L1101,755" stroke-width="1.5"/>
<path d="M1105,736 L1124,738 L1124,754 L1105,755 Z" fill="#333" stroke-width="1.5"/>
<path d="M1124,740 L1135,735 L1142,737 L1148,744 L1146,753 L1140,758 L1136,764 L1124,756 Z" fill="#fff" stroke-width="2"/>
<path d="M1128,742 L1144,741 M1128,749 L1146,748 M1128,754 L1140,756" stroke-width="1.2"/>
<path d="M1149,752 L1183,756" stroke-width="1.2" stroke-dasharray="4 3 1.5 3"/>
</g>

<!-- LABELS -->
<g stroke="#666" stroke-width="2.4" fill="none">
<path d="M776,252.2 L942,252.2"/>
<path d="M750,312.2 L894,312.2"/>
<path d="M805,472.5 L1054,472.5"/>
<path d="M770,557.5 L1084,557.5"/>
<path d="M1035,664.5 L1122.5,664.5"/>
<path d="M1010,806 L1064,806"/>
<path d="M962,881 L1054,881"/>
<path d="M892.5,978.75 L980,978.75"/>
<path d="M827.5,1107 L950,1107"/>
<path d="M759,1213.25 L857.5,1213.25"/>
</g>
<g fill="none" stroke="#111" stroke-width="2.8" stroke-linecap="round"><path d="M917.9,306.0 C906.4,305.5 898.4,313.5 908.4,315.5 C920.4,319.5 933.4,319.5 945.4,315.5 C955.4,313.5 947.4,305.5 939.9,306.5"/><path d="M926.9,300 L926.9,327.5" stroke-width="3"/><path d="M926.9,294 L926.9,301" stroke-width="3.5"/></g>
<g fill="none" stroke="#111" stroke-width="2.8" stroke-linecap="round"><path d="M1111.4,552.7 C1097.0500000000002,552.2 1089.0500000000002,560.7 1099.0500000000002,563.2 C1111.0500000000002,567.2 1129.75,567.2 1141.75,563.2 C1151.75,560.7 1143.75,552.2 1133.4,553.2"/><path d="M1120.4,547.2 L1120.4,577.3" stroke-width="3"/><path d="M1120.4,541.2 L1120.4,548.2" stroke-width="3.5"/></g>
<g fill="none" stroke="#111" stroke-width="2.8" stroke-linecap="round"><path d="M1211,759.5 C1225,758 1235,762 1245,764" stroke-width="3"/><path d="M1224.5,749 C1226,742 1230,738.5 1232,739 C1236,741 1235,752 1234,762 C1232,774 1228,786 1224.5,785.5 C1220.5,785 1220.5,776 1220.6,770"/></g>
<path d="M1074,841 L1074,800 L1071,800 L1077,785 L1083,800 L1080,800 L1080,841 Z" fill="#fff" stroke="#333" stroke-width="1.6"/>
<path d="M879.6,344.8 L879.6,366.2 L894.8,366.2" stroke="#111" stroke-width="3" fill="none"/>
<g font-family="Liberation Sans" font-size="31.5" fill="#111"><text x="878.4" y="397.5">N</text><text x="878.4" y="438">E</text></g>
<g fill="none" stroke="#1a1a1a" stroke-width="2.2"><circle cx="999.7" cy="1379" r="18.5"/><path d="M999.7,1367 L999.7,1382 M987,1382.5 L1012.5,1382.5 M990.5,1388 L1009,1388 M995,1393 L1004.5,1393"/><path d="M1026,1371.5 L1031,1371.5 L1031,1394.5 L1026,1394.5" stroke-width="2.4"/></g>
<path d="M972.2,230.9 L972.2,263.2" stroke="#111" stroke-width="4.6" fill="none"/><path d="M973.7,232.20000000000002 L963.0,240.4" stroke="#111" stroke-width="3.7" stroke-linecap="round" fill="none"/>
<text x="959.0" y="326" font-family="Liberation Sans" fill="#111"><tspan font-size="46">2</tspan><tspan font-size="33" dx="0"></tspan></text>
<text x="1069.2" y="485" font-family="Liberation Sans" fill="#111"><tspan font-size="46">3</tspan><tspan font-size="33" dx="0"></tspan></text>
<text x="1158.5" y="575.2" font-family="Liberation Sans" fill="#111"><tspan font-size="46">4</tspan><tspan font-size="33" dx="0"></tspan></text>
<path d="M1145.3,650.8 L1145.3,682.8" stroke="#111" stroke-width="4.6" fill="none"/><path d="M1146.8,652.0999999999999 L1136.1,660.3" stroke="#111" stroke-width="3.7" stroke-linecap="round" fill="none"/>
<path d="M1168.3,650.8 L1168.3,682.8" stroke="#111" stroke-width="4.6" fill="none"/><path d="M1169.8,652.0999999999999 L1159.1,660.3" stroke="#111" stroke-width="3.7" stroke-linecap="round" fill="none"/>
<text x="1177.6" y="682.8" font-family="Liberation Sans" font-size="33" fill="#111">x54pcs</text>
<text x="1258.2" y="783.8" font-family="Liberation Sans" fill="#111"><tspan font-size="46">5</tspan><tspan font-size="33" dx="0">x10pcs</tspan></text>
<text x="1093.7" y="835" font-family="Liberation Sans" fill="#111"><tspan font-size="46">6</tspan><tspan font-size="33" dx="0">x3pcs</tspan></text>
<path d="M1081.9,866.9 L1081.9,899.2" stroke="#111" stroke-width="4.6" fill="none"/><path d="M1083.4,868.1999999999999 L1072.7,876.4" stroke="#111" stroke-width="3.7" stroke-linecap="round" fill="none"/>
<text x="1092" y="899.2" font-family="Liberation Sans" fill="#111"><tspan font-size="46">0</tspan><tspan font-size="33">x42pcs</tspan></text>
<text x="994.1" y="997.5" font-family="Liberation Sans" fill="#111"><tspan font-size="46">9</tspan><tspan font-size="33" dx="0">x31pcs</tspan></text>
<text x="961.8" y="1121.3" font-family="Liberation Sans" fill="#111"><tspan font-size="46">8</tspan><tspan font-size="33" dx="0">x20pcs</tspan></text>
<text x="868.9" y="1227.5" font-family="Liberation Sans" fill="#111"><tspan font-size="46">7</tspan><tspan font-size="33" dx="0">x9pcs</tspan></text>

<!-- INSTRUCTIONS -->
<g class="t" clip-path="url(#txtclip)">
<text x="72.4" y="1284.4">I:<tspan x="100.2">Use screws(2) to fasten the metal bracket(1) on the ceiling.</tspan></text>
<text x="72.4" y="1313.8">II:<tspan x="100.2">Connect power cords to the lamp connector terminal:</tspan></text>
<text x="108" y="1350">[Wire color coding in Norther America: Black for &#8220;L&#8221;, White for &#8220;N&#8221;;]</text>
<text x="109" y="1388.8">[Wire color coding IEC: Brown for &#8220;L&#8221;, Blue for &#8220;N&#8221;, green-yellow for earth wire &#8220;E&#8221;</text>
<text x="72.4" y="1425">III: Assemble the canopy(3) to the metal bracket(1), and fasten the nuts &amp; washers(4).</text>
<text x="72.4" y="1461.3" letter-spacing="0.05">IV: AScrew light bulb (5)( not included) into the lamp socket and make sure it does not exceed the maximum wattage</text>
<text x="99" y="1491.3">specified on the label.</text>
<text x="72.4" y="1518.1">V: assemble chains (6) to frames.</text>
<text x="72.4" y="1556.9">VI: Hang the crystals(7)(8)(9)(10)(11) on the frames.</text>
</g>
</svg>
</body></html>
